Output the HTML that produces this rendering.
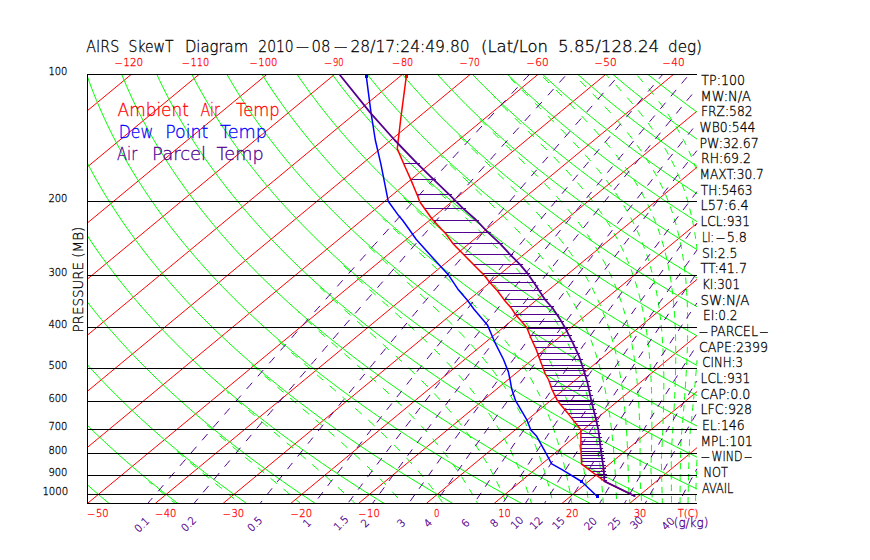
<!DOCTYPE html>
<html><head><meta charset="utf-8"><title>AIRS SkewT Diagram</title>
<style>
html,body{margin:0;padding:0;background:#fff;}
body{width:870px;height:560px;overflow:hidden;font-family:"Liberation Sans",sans-serif;}
svg{display:block;}
text{font-family:"DejaVu Sans","Liberation Sans",sans-serif;font-weight:200;stroke-width:0.3px;}
</style></head><body>
<svg width="870" height="560" viewBox="0 0 870 560" shape-rendering="crispEdges">
<rect width="870" height="560" fill="#fff"/>
<path d="M87.5 110.6 L131.3 74.4 M87.5 166.8 L199.1 74.4 M87.5 222.9 L266.8 74.4 M87.5 279.0 L334.6 74.4 M87.5 335.1 L402.4 74.4 M87.5 391.2 L470.2 74.4 M87.5 447.3 L538.0 74.4 M87.5 503.4 L605.7 74.4 M155.3 503.4 L673.5 74.4 M223.1 503.4 L697.0 111.1 M290.8 503.4 L697.0 167.2 M358.6 503.4 L697.0 223.3 M426.4 503.4 L697.0 279.4 M494.2 503.4 L697.0 335.5 M562.0 503.4 L697.0 391.6 M629.7 503.4 L697.0 447.7" stroke="#ff0000" fill="none" stroke-width="1" shape-rendering="auto"/>
<path d="M87.5 484.9 L93.7 490.4 L100.7 496.4 L107.8 502.4 L109.0 503.4 M87.5 425.4 L93.6 431.4 L99.9 437.4 L106.3 443.4 L112.9 449.4 L119.5 455.4 L126.3 461.4 L133.3 467.4 L140.3 473.4 L147.5 479.4 L154.9 485.4 L162.4 491.4 L170.0 497.4 L177.7 503.4 L177.7 503.4 M87.5 364.9 L92.5 370.4 L98.1 376.4 L103.8 382.4 L109.6 388.4 L115.6 394.4 L121.6 400.4 L127.8 406.4 L134.1 412.4 L140.6 418.4 L147.2 424.4 L153.9 430.4 L160.7 436.4 L167.7 442.4 L174.8 448.4 L182.1 454.4 L189.4 460.4 L197.0 466.4 L204.6 472.4 L212.4 478.4 L220.4 484.4 L228.5 490.4 L236.7 496.4 L245.1 502.4 L246.5 503.4 M87.5 302.3 L91.6 307.4 L96.4 313.4 L101.4 319.4 L106.4 325.4 L111.6 331.4 L117.0 337.4 L122.4 343.4 L127.9 349.4 L133.6 355.4 L139.4 361.4 L145.3 367.4 L151.4 373.4 L157.5 379.4 L163.8 385.4 L170.2 391.4 L176.8 397.4 L183.5 403.4 L190.3 409.4 L197.2 415.4 L204.3 421.4 L211.5 427.4 L218.9 433.4 L226.4 439.4 L234.0 445.4 L241.8 451.4 L249.7 457.4 L257.8 463.4 L266.0 469.4 L274.3 475.4 L282.8 481.4 L291.4 487.4 L300.2 493.4 L309.2 499.4 L315.2 503.4 M87.5 236.0 L91.1 241.4 L95.1 247.4 L99.3 253.4 L103.6 259.4 L108.1 265.4 L112.6 271.4 L117.2 277.4 L122.0 283.4 L126.8 289.4 L131.8 295.4 L136.9 301.4 L142.1 307.4 L147.4 313.4 L152.9 319.4 L158.4 325.4 L164.1 331.4 L169.9 337.4 L175.9 343.4 L181.9 349.4 L188.1 355.4 L194.4 361.4 L200.9 367.4 L207.4 373.4 L214.1 379.4 L221.0 385.4 L227.9 391.4 L235.0 397.4 L242.2 403.4 L249.6 409.4 L257.1 415.4 L264.8 421.4 L272.6 427.4 L280.5 433.4 L288.6 439.4 L296.8 445.4 L305.1 451.4 L313.7 457.4 L322.3 463.4 L331.1 469.4 L340.1 475.4 L349.2 481.4 L358.5 487.4 L367.9 493.4 L377.5 499.4 L384.0 503.4 M87.5 163.3 L90.2 168.4 L93.4 174.4 L96.7 180.4 L100.2 186.4 L103.7 192.4 L107.4 198.4 L111.2 204.4 L115.0 210.4 L119.0 216.4 L123.0 222.4 L127.2 228.4 L131.5 234.4 L135.9 240.4 L140.4 246.4 L145.0 252.4 L149.7 258.4 L154.6 264.4 L159.5 270.4 L164.6 276.4 L169.8 282.4 L175.1 288.4 L180.5 294.4 L186.0 300.4 L191.7 306.4 L197.5 312.4 L203.4 318.4 L209.4 324.4 L215.6 330.4 L221.9 336.4 L228.3 342.4 L234.8 348.4 L241.5 354.4 L248.3 360.4 L255.2 366.4 L262.3 372.4 L269.5 378.4 L276.9 384.4 L284.3 390.4 L291.9 396.4 L299.7 402.4 L307.6 408.4 L315.7 414.4 L323.8 420.4 L332.2 426.4 L340.7 432.4 L349.3 438.4 L358.1 444.4 L367.0 450.4 L376.1 456.4 L385.3 462.4 L394.7 468.4 L404.3 474.4 L414.0 480.4 L423.9 486.4 L433.9 492.4 L444.1 498.4 L452.7 503.4 M87.5 76.9 L89.5 82.4 L91.7 88.4 L94.1 94.4 L96.5 100.4 L99.1 106.4 L101.7 112.4 L104.4 118.4 L107.2 124.4 L110.1 130.4 L113.1 136.4 L116.2 142.4 L119.4 148.4 L122.7 154.4 L126.1 160.4 L129.6 166.4 L133.2 172.4 L136.9 178.4 L140.7 184.4 L144.6 190.4 L148.6 196.4 L152.8 202.4 L157.0 208.4 L161.3 214.4 L165.8 220.4 L170.3 226.4 L175.0 232.4 L179.8 238.4 L184.7 244.4 L189.7 250.4 L194.8 256.4 L200.1 262.4 L205.4 268.4 L210.9 274.4 L216.5 280.4 L222.2 286.4 L228.1 292.4 L234.0 298.4 L240.1 304.4 L246.3 310.4 L252.7 316.4 L259.2 322.4 L265.8 328.4 L272.5 334.4 L279.4 340.4 L286.4 346.4 L293.5 352.4 L300.8 358.4 L308.2 364.4 L315.7 370.4 L323.4 376.4 L331.3 382.4 L339.2 388.4 L347.3 394.4 L355.6 400.4 L364.0 406.4 L372.6 412.4 L381.3 418.4 L390.1 424.4 L399.1 430.4 L408.3 436.4 L417.6 442.4 L427.1 448.4 L436.7 454.4 L446.5 460.4 L456.4 466.4 L466.6 472.4 L476.8 478.4 L487.3 484.4 L497.9 490.4 L508.7 496.4 L519.6 502.4 L521.5 503.4 M121.7 74.4 L124.2 80.4 L126.7 86.4 L129.4 92.4 L132.1 98.4 L135.0 104.4 L137.9 110.4 L141.0 116.4 L144.1 122.4 L147.3 128.4 L150.7 134.4 L154.1 140.4 L157.6 146.4 L161.3 152.4 L165.0 158.4 L168.8 164.4 L172.8 170.4 L176.8 176.4 L181.0 182.4 L185.3 188.4 L189.6 194.4 L194.1 200.4 L198.7 206.4 L203.4 212.4 L208.3 218.4 L213.2 224.4 L218.2 230.4 L223.4 236.4 L228.7 242.4 L234.1 248.4 L239.6 254.4 L245.3 260.4 L251.0 266.4 L256.9 272.4 L262.9 278.4 L269.1 284.4 L275.3 290.4 L281.7 296.4 L288.2 302.4 L294.9 308.4 L301.7 314.4 L308.6 320.4 L315.6 326.4 L322.8 332.4 L330.1 338.4 L337.6 344.4 L345.2 350.4 L352.9 356.4 L360.8 362.4 L368.8 368.4 L377.0 374.4 L385.3 380.4 L393.8 386.4 L402.4 392.4 L411.1 398.4 L420.0 404.4 L429.1 410.4 L438.3 416.4 L447.7 422.4 L457.2 428.4 L466.9 434.4 L476.8 440.4 L486.8 446.4 L496.9 452.4 L507.3 458.4 L517.8 464.4 L528.4 470.4 L539.3 476.4 L550.3 482.4 L561.5 488.4 L572.8 494.4 L584.4 500.4 L590.2 503.4 M156.8 74.4 L159.6 80.4 L162.5 86.4 L165.5 92.4 L168.6 98.4 L171.8 104.4 L175.0 110.4 L178.4 116.4 L181.9 122.4 L185.5 128.4 L189.2 134.4 L193.0 140.4 L196.9 146.4 L200.9 152.4 L205.0 158.4 L209.2 164.4 L213.6 170.4 L218.0 176.4 L222.6 182.4 L227.2 188.4 L232.0 194.4 L236.9 200.4 L241.9 206.4 L247.0 212.4 L252.2 218.4 L257.6 224.4 L263.0 230.4 L268.6 236.4 L274.4 242.4 L280.2 248.4 L286.1 254.4 L292.2 260.4 L298.4 266.4 L304.8 272.4 L311.2 278.4 L317.8 284.4 L324.6 290.4 L331.4 296.4 L338.4 302.4 L345.5 308.4 L352.8 314.4 L360.2 320.4 L367.7 326.4 L375.4 332.4 L383.2 338.4 L391.2 344.4 L399.3 350.4 L407.5 356.4 L415.9 362.4 L424.5 368.4 L433.2 374.4 L442.0 380.4 L451.0 386.4 L460.1 392.4 L469.4 398.4 L478.9 404.4 L488.5 410.4 L498.3 416.4 L508.2 422.4 L518.3 428.4 L528.6 434.4 L539.0 440.4 L549.6 446.4 L560.4 452.4 L571.3 458.4 L582.4 464.4 L593.7 470.4 L605.2 476.4 L616.8 482.4 L628.6 488.4 L640.6 494.4 L652.8 500.4 L658.9 503.4 M191.9 74.4 L195.0 80.4 L198.2 86.4 L201.6 92.4 L205.0 98.4 L208.5 104.4 L212.2 110.4 L215.9 116.4 L219.7 122.4 L223.7 128.4 L227.8 134.4 L231.9 140.4 L236.2 146.4 L240.6 152.4 L245.0 158.4 L249.6 164.4 L254.4 170.4 L259.2 176.4 L264.1 182.4 L269.2 188.4 L274.3 194.4 L279.6 200.4 L285.0 206.4 L290.6 212.4 L296.2 218.4 L302.0 224.4 L307.9 230.4 L313.9 236.4 L320.0 242.4 L326.3 248.4 L332.7 254.4 L339.2 260.4 L345.8 266.4 L352.6 272.4 L359.5 278.4 L366.6 284.4 L373.8 290.4 L381.1 296.4 L388.6 302.4 L396.2 308.4 L403.9 314.4 L411.8 320.4 L419.8 326.4 L428.0 332.4 L436.3 338.4 L444.7 344.4 L453.4 350.4 L462.1 356.4 L471.0 362.4 L480.1 368.4 L489.3 374.4 L498.7 380.4 L508.2 386.4 L517.9 392.4 L527.8 398.4 L537.8 404.4 L547.9 410.4 L558.3 416.4 L568.8 422.4 L579.5 428.4 L590.3 434.4 L601.3 440.4 L612.5 446.4 L623.9 452.4 L635.4 458.4 L647.1 464.4 L659.0 470.4 L671.1 476.4 L683.3 482.4 L695.8 488.4 L697.0 489.0 M226.9 74.4 L230.4 80.4 L234.0 86.4 L237.6 92.4 L241.4 98.4 L245.3 104.4 L249.3 110.4 L253.4 116.4 L257.6 122.4 L261.9 128.4 L266.3 134.4 L270.8 140.4 L275.5 146.4 L280.2 152.4 L285.1 158.4 L290.0 164.4 L295.1 170.4 L300.3 176.4 L305.7 182.4 L311.1 188.4 L316.7 194.4 L322.4 200.4 L328.2 206.4 L334.1 212.4 L340.2 218.4 L346.3 224.4 L352.7 230.4 L359.1 236.4 L365.7 242.4 L372.4 248.4 L379.2 254.4 L386.2 260.4 L393.2 266.4 L400.5 272.4 L407.9 278.4 L415.4 284.4 L423.0 290.4 L430.8 296.4 L438.7 302.4 L446.8 308.4 L455.0 314.4 L463.4 320.4 L471.9 326.4 L480.5 332.4 L489.4 338.4 L498.3 344.4 L507.4 350.4 L516.7 356.4 L526.1 362.4 L535.7 368.4 L545.5 374.4 L555.4 380.4 L565.4 386.4 L575.7 392.4 L586.1 398.4 L596.6 404.4 L607.4 410.4 L618.3 416.4 L629.3 422.4 L640.6 428.4 L652.0 434.4 L663.6 440.4 L675.4 446.4 L687.3 452.4 L697.0 457.2 M262.0 74.4 L265.8 80.4 L269.7 86.4 L273.7 92.4 L277.9 98.4 L282.1 104.4 L286.4 110.4 L290.8 116.4 L295.4 122.4 L300.1 128.4 L304.8 134.4 L309.7 140.4 L314.7 146.4 L319.9 152.4 L325.1 158.4 L330.4 164.4 L335.9 170.4 L341.5 176.4 L347.2 182.4 L353.1 188.4 L359.0 194.4 L365.1 200.4 L371.3 206.4 L377.7 212.4 L384.1 218.4 L390.7 224.4 L397.5 230.4 L404.3 236.4 L411.3 242.4 L418.4 248.4 L425.7 254.4 L433.1 260.4 L440.7 266.4 L448.3 272.4 L456.2 278.4 L464.1 284.4 L472.2 290.4 L480.5 296.4 L488.9 302.4 L497.4 308.4 L506.1 314.4 L515.0 320.4 L524.0 326.4 L533.1 332.4 L542.4 338.4 L551.9 344.4 L561.5 350.4 L571.3 356.4 L581.2 362.4 L591.4 368.4 L601.6 374.4 L612.1 380.4 L622.7 386.4 L633.4 392.4 L644.4 398.4 L655.5 404.4 L666.8 410.4 L678.2 416.4 L689.9 422.4 L697.0 426.0 M297.1 74.4 L301.2 80.4 L305.5 86.4 L309.8 92.4 L314.3 98.4 L318.8 104.4 L323.5 110.4 L328.3 116.4 L333.2 122.4 L338.2 128.4 L343.4 134.4 L348.6 140.4 L354.0 146.4 L359.5 152.4 L365.1 158.4 L370.8 164.4 L376.7 170.4 L382.7 176.4 L388.8 182.4 L395.0 188.4 L401.4 194.4 L407.9 200.4 L414.5 206.4 L421.2 212.4 L428.1 218.4 L435.1 224.4 L442.3 230.4 L449.6 236.4 L457.0 242.4 L464.5 248.4 L472.2 254.4 L480.1 260.4 L488.1 266.4 L496.2 272.4 L504.5 278.4 L512.9 284.4 L521.5 290.4 L530.2 296.4 L539.0 302.4 L548.1 308.4 L557.2 314.4 L566.6 320.4 L576.1 326.4 L585.7 332.4 L595.5 338.4 L605.5 344.4 L615.6 350.4 L625.9 356.4 L636.4 362.4 L647.0 368.4 L657.8 374.4 L668.7 380.4 L679.9 386.4 L691.2 392.4 L697.0 395.5 M332.2 74.4 L336.7 80.4 L341.2 86.4 L345.9 92.4 L350.7 98.4 L355.6 104.4 L360.6 110.4 L365.8 116.4 L371.1 122.4 L376.4 128.4 L381.9 134.4 L387.5 140.4 L393.3 146.4 L399.1 152.4 L405.1 158.4 L411.2 164.4 L417.5 170.4 L423.8 176.4 L430.3 182.4 L437.0 188.4 L443.7 194.4 L450.6 200.4 L457.6 206.4 L464.8 212.4 L472.1 218.4 L479.5 224.4 L487.1 230.4 L494.8 236.4 L502.6 242.4 L510.6 248.4 L518.8 254.4 L527.0 260.4 L535.5 266.4 L544.0 272.4 L552.8 278.4 L561.7 284.4 L570.7 290.4 L579.9 296.4 L589.2 302.4 L598.7 308.4 L608.4 314.4 L618.2 320.4 L628.1 326.4 L638.3 332.4 L648.6 338.4 L659.0 344.4 L669.7 350.4 L680.5 356.4 L691.5 362.4 L697.0 365.4 M367.3 74.4 L372.1 80.4 L377.0 86.4 L382.0 92.4 L387.1 98.4 L392.4 104.4 L397.8 110.4 L403.3 116.4 L408.9 122.4 L414.6 128.4 L420.5 134.4 L426.5 140.4 L432.6 146.4 L438.8 152.4 L445.2 158.4 L451.6 164.4 L458.3 170.4 L465.0 176.4 L471.9 182.4 L478.9 188.4 L486.1 194.4 L493.4 200.4 L500.8 206.4 L508.3 212.4 L516.0 218.4 L523.9 224.4 L531.9 230.4 L540.0 236.4 L548.3 242.4 L556.7 248.4 L565.3 254.4 L574.0 260.4 L582.9 266.4 L591.9 272.4 L601.1 278.4 L610.4 284.4 L619.9 290.4 L629.6 296.4 L639.4 302.4 L649.3 308.4 L659.5 314.4 L669.8 320.4 L680.2 326.4 L690.9 332.4 L697.0 335.8 M402.4 74.4 L407.5 80.4 L412.7 86.4 L418.1 92.4 L423.6 98.4 L429.2 104.4 L434.9 110.4 L440.7 116.4 L446.7 122.4 L452.8 128.4 L459.0 134.4 L465.4 140.4 L471.8 146.4 L478.4 152.4 L485.2 158.4 L492.0 164.4 L499.0 170.4 L506.2 176.4 L513.5 182.4 L520.9 188.4 L528.4 194.4 L536.1 200.4 L543.9 206.4 L551.9 212.4 L560.0 218.4 L568.3 224.4 L576.7 230.4 L585.2 236.4 L593.9 242.4 L602.8 248.4 L611.8 254.4 L621.0 260.4 L630.3 266.4 L639.8 272.4 L649.4 278.4 L659.2 284.4 L669.1 290.4 L679.2 296.4 L689.5 302.4 L697.0 306.7 M437.4 74.4 L442.9 80.4 L448.5 86.4 L454.2 92.4 L460.0 98.4 L465.9 104.4 L472.0 110.4 L478.2 116.4 L484.5 122.4 L491.0 128.4 L497.6 134.4 L504.3 140.4 L511.1 146.4 L518.1 152.4 L525.2 158.4 L532.4 164.4 L539.8 170.4 L547.4 176.4 L555.0 182.4 L562.8 188.4 L570.8 194.4 L578.8 200.4 L587.1 206.4 L595.5 212.4 L604.0 218.4 L612.7 224.4 L621.5 230.4 L630.5 236.4 L639.6 242.4 L648.9 248.4 L658.3 254.4 L667.9 260.4 L677.7 266.4 L687.6 272.4 L697.0 278.0 L697.0 278.0 M472.5 74.4 L478.3 80.4 L484.2 86.4 L490.3 92.4 L496.4 98.4 L502.7 104.4 L509.1 110.4 L515.7 116.4 L522.4 122.4 L529.2 128.4 L536.1 134.4 L543.2 140.4 L550.4 146.4 L557.7 152.4 L565.2 158.4 L572.8 164.4 L580.6 170.4 L588.5 176.4 L596.6 182.4 L604.8 188.4 L613.1 194.4 L621.6 200.4 L630.2 206.4 L639.0 212.4 L648.0 218.4 L657.1 224.4 L666.3 230.4 L675.7 236.4 L685.3 242.4 L695.0 248.4 L697.0 249.6 M507.6 74.4 L513.7 80.4 L520.0 86.4 L526.4 92.4 L532.9 98.4 L539.5 104.4 L546.3 110.4 L553.2 116.4 L560.2 122.4 L567.3 128.4 L574.6 134.4 L582.1 140.4 L589.7 146.4 L597.4 152.4 L605.2 158.4 L613.2 164.4 L621.4 170.4 L629.7 176.4 L638.1 182.4 L646.7 188.4 L655.5 194.4 L664.3 200.4 L673.4 206.4 L682.6 212.4 L691.9 218.4 L697.0 221.6 M542.7 74.4 L549.1 80.4 L555.7 86.4 L562.4 92.4 L569.3 98.4 L576.3 104.4 L583.4 110.4 L590.6 116.4 L598.0 122.4 L605.5 128.4 L613.2 134.4 L621.0 140.4 L628.9 146.4 L637.0 152.4 L645.3 158.4 L653.7 164.4 L662.2 170.4 L670.9 176.4 L679.7 182.4 L688.7 188.4 L697.0 193.9 L697.0 193.9 M577.8 74.4 L584.6 80.4 L591.5 86.4 L598.5 92.4 L605.7 98.4 L613.0 104.4 L620.5 110.4 L628.1 116.4 L635.8 122.4 L643.7 128.4 L651.7 134.4 L659.9 140.4 L668.2 146.4 L676.7 152.4 L685.3 158.4 L694.1 164.4 L697.0 166.4 M612.9 74.4 L620.0 80.4 L627.2 86.4 L634.6 92.4 L642.1 98.4 L649.8 104.4 L657.6 110.4 L665.6 116.4 L673.7 122.4 L681.9 128.4 L690.3 134.4 L697.0 139.1 M647.9 74.4 L655.4 80.4 L663.0 86.4 L670.7 92.4 L678.6 98.4 L686.6 104.4 L694.7 110.4 L697.0 112.1" stroke="#00ff00" fill="none" stroke-width="1" shape-rendering="auto"/>
<path d="M148.7 481.5 L150.5 483.0 L152.3 484.5 M158.8 490.0 L162.0 492.6 L165.0 495.1 M171.5 500.5 L173.3 502.0 L175.0 503.3 M177.1 451.5 L180.3 454.1 L183.4 456.8 M189.9 462.3 L193.0 465.0 L196.2 467.6 M202.6 473.0 L205.9 475.6 L208.9 478.1 M215.4 483.5 L218.6 486.1 L221.7 488.6 M228.2 494.0 L231.3 496.5 L234.3 499.0 M206.9 424.8 L210.2 427.6 L213.3 430.3 M219.7 435.8 L222.8 438.5 L226.0 441.1 M232.5 446.6 L235.7 449.3 L238.7 451.8 M245.3 457.3 L248.5 460.0 L251.5 462.5 M258.0 467.8 L261.2 470.5 L264.2 473.0 M270.6 478.3 L273.8 481.0 L277.0 483.6 M283.4 489.0 L286.6 491.6 L289.7 494.3 M296.2 499.8 L298.3 501.6 L300.3 503.3 M226.7 391.5 L227.8 392.5 L229.0 393.5 M235.6 399.3 L238.9 402.1 L241.9 404.8 M248.3 410.3 L251.4 413.0 L254.6 415.6 M261.2 421.3 L264.4 424.0 L267.5 426.6 M273.8 432.0 L277.0 434.6 L280.2 437.3 M286.7 442.8 L289.9 445.5 L293.0 448.1 M299.5 453.6 L302.7 456.3 L305.8 459.0 M312.2 464.5 L315.5 467.3 L318.5 470.0 M325.0 475.6 L328.2 478.5 L331.3 481.3 M337.9 487.3 L341.0 490.1 L344.0 493.0 M350.8 499.3 L352.8 501.3 L354.9 503.3 M251.7 364.5 L254.8 367.3 L257.8 370.0 M264.4 375.8 L267.7 378.6 L270.7 381.3 M277.3 387.0 L280.3 389.6 L283.4 392.3 M290.0 398.0 L293.1 400.6 L296.3 403.3 M302.7 408.8 L306.0 411.6 L309.1 414.3 M315.5 419.8 L318.8 422.6 L321.9 425.3 M328.3 430.8 L331.5 433.6 L334.6 436.3 M341.2 442.1 L344.3 445.0 L347.4 447.8 M354.0 453.8 L357.3 456.8 L360.3 459.6 M367.0 466.0 L370.1 469.0 L373.1 472.0 M379.9 478.7 L383.0 481.9 L386.0 485.1 M392.1 491.6 L395.0 494.8 L397.9 498.0 M278.4 340.8 L281.5 343.7 L284.7 346.5 M291.2 352.3 L294.4 355.1 L297.5 357.8 M304.1 363.6 L307.4 366.5 L310.4 369.1 M317.0 374.8 L320.0 377.5 L323.1 380.1 M329.6 385.8 L332.9 388.6 L336.0 391.3 M342.5 397.0 L345.7 399.8 L348.7 402.5 M355.3 408.3 L358.6 411.3 L361.7 414.1 M368.3 420.1 L371.5 423.1 L374.6 425.9 M381.1 432.1 L384.2 435.1 L387.3 438.1 M394.1 444.9 L397.3 448.1 L400.2 451.1 M406.5 457.9 L409.4 461.1 L412.1 464.1 M417.9 470.7 L420.7 473.9 L423.2 476.9 M428.3 483.3 L430.8 486.5 L433.3 489.7 M438.0 496.1 L440.3 499.3 L442.4 502.3 M298.2 312.5 L298.7 313.0 L299.1 313.4 M305.7 319.4 L308.8 322.2 L312.0 325.0 M318.6 331.0 L321.8 333.8 L324.8 336.5 M331.4 342.3 L334.6 345.1 L337.6 347.8 M344.3 353.6 L347.5 356.5 L350.5 359.1 M357.1 365.0 L360.3 367.8 L363.3 370.5 M369.9 376.4 L373.1 379.2 L376.2 382.0 M382.8 388.0 L386.0 391.0 L389.0 393.8 M395.7 400.2 L398.9 403.2 L401.9 406.2 M408.6 412.8 L411.7 416.0 L414.8 419.2 M421.0 425.7 L424.0 428.9 L426.9 432.1 M432.7 438.7 L435.4 441.9 L437.9 444.9 M443.1 451.3 L445.6 454.5 L448.1 457.7 M452.7 464.0 L455.1 467.2 L457.3 470.4 M461.5 476.6 L463.6 479.9 L465.5 482.9 M469.3 489.1 L471.3 492.3 L473.0 495.3 M476.3 501.3 L477.0 502.4 L477.4 503.3 M319.9 287.5 L322.4 289.8 L324.7 291.9 M331.4 298.1 L334.5 300.9 L337.7 303.7 M344.3 309.7 L347.5 312.5 L350.6 315.4 M357.1 321.1 L360.3 324.0 L363.4 326.8 M370.0 332.6 L373.2 335.5 L376.3 338.3 M382.8 344.1 L385.9 347.0 L389.0 349.8 M395.8 356.0 L398.8 358.8 L401.9 361.6 M408.6 368.0 L411.8 371.0 L414.9 374.0 M421.5 380.5 L424.7 383.7 L427.8 386.9 M434.1 393.4 L437.1 396.6 L440.0 399.8 M445.8 406.3 L448.6 409.5 L451.3 412.7 M456.6 419.1 L459.1 422.3 L461.6 425.5 M466.3 431.7 L468.7 434.9 L470.9 438.1 M475.2 444.4 L477.3 447.6 L479.3 450.6 M483.1 456.8 L485.0 459.9 L486.9 463.1 M490.3 469.1 L492.0 472.4 L493.7 475.6 M496.6 481.4 L498.2 484.6 L499.8 487.8 M502.4 493.6 L503.8 496.8 L505.2 500.1 M343.7 265.8 L346.9 268.8 L350.0 271.6 M356.7 277.8 L359.7 280.6 L362.8 283.4 M369.4 289.4 L372.6 292.3 L375.7 295.1 M382.3 301.1 L385.4 303.9 L388.6 306.7 M395.2 312.7 L398.3 315.5 L401.4 318.4 M408.1 324.5 L411.4 327.5 L414.4 330.4 M421.0 336.5 L424.2 339.5 L427.3 342.5 M434.0 349.1 L437.1 352.2 L440.1 355.2 M446.6 361.9 L449.7 365.1 L452.6 368.3 M458.6 374.9 L461.3 377.9 L464.0 381.1 M469.6 387.7 L472.2 390.9 L474.6 393.9 M479.5 400.3 L481.8 403.4 L484.1 406.6 M488.5 412.9 L490.7 416.1 L492.8 419.3 M496.7 425.5 L498.5 428.5 L500.4 431.7 M503.8 437.7 L505.6 441.0 L507.3 444.2 M510.3 450.0 L511.9 453.2 L513.4 456.4 M516.1 462.2 L517.5 465.4 L518.9 468.7 M521.3 474.5 L522.6 477.8 L523.7 480.8 M525.9 486.5 L527.0 489.8 L528.2 493.0 M530.0 498.5 L530.8 501.0 L531.5 503.3 M368.6 246.5 L371.8 249.5 L374.8 252.3 M381.5 258.5 L384.7 261.5 L387.8 264.3 M394.3 270.3 L397.6 273.3 L400.7 276.1 M407.2 282.1 L410.3 285.0 L413.4 287.8 M420.1 294.0 L423.4 297.0 L426.4 299.8 M433.0 306.0 L436.1 309.0 L439.3 312.0 M446.0 318.5 L449.2 321.7 L452.3 324.7 M458.9 331.4 L462.0 334.6 L464.8 337.6 M470.9 344.2 L473.7 347.4 L476.5 350.5 M482.2 357.1 L484.8 360.3 L487.3 363.3 M492.3 369.7 L494.7 372.9 L497.1 376.1 M501.5 382.4 L503.8 385.6 L505.9 388.8 M509.8 394.8 L511.8 398.0 L513.6 401.1 M517.2 407.4 L519.0 410.6 L520.7 413.6 M523.8 419.6 L525.4 422.8 L526.9 426.1 M529.6 431.8 L531.0 435.1 L532.4 438.3 M534.8 444.0 L536.1 447.3 L537.2 450.3 M539.4 456.0 L540.5 459.3 L541.6 462.5 M543.4 468.0 L544.5 471.3 L545.5 474.5 M547.1 480.0 L548.0 483.3 L548.9 486.5 M550.3 491.8 L551.1 495.0 L551.9 498.3 M382.9 218.5 L384.7 220.3 L386.4 221.8 M393.1 228.2 L396.3 231.2 L399.5 234.2 M406.1 240.4 L409.3 243.4 L412.4 246.2 M419.0 252.4 L422.1 255.2 L425.1 258.0 M431.8 264.2 L435.0 267.2 L438.0 270.0 M444.8 276.4 L448.0 279.4 L450.9 282.2 M457.7 288.7 L460.8 291.7 L463.8 294.7 M470.6 301.6 L473.7 304.7 L476.6 307.7 M483.0 314.5 L485.9 317.7 L488.6 320.7 M494.3 327.3 L497.1 330.5 L499.5 333.5 M504.8 340.1 L507.3 343.3 L509.6 346.3 M514.2 352.6 L516.5 355.9 L518.7 359.1 M522.7 365.1 L524.7 368.3 L526.7 371.5 M530.2 377.5 L532.1 380.7 L533.8 384.0 M537.0 390.0 L538.6 393.2 L540.1 396.2 M542.9 402.2 L544.3 405.4 L545.7 408.4 M548.1 414.3 L549.4 417.5 L550.6 420.8 M552.7 426.3 L553.8 429.5 L554.9 432.8 M556.7 438.3 L557.7 441.5 L558.7 444.8 M560.3 450.3 L561.2 453.5 L562.1 456.8 M563.5 462.3 L564.3 465.5 L565.1 468.8 M566.3 474.0 L567.0 477.3 L567.7 480.5 M568.7 485.8 L569.4 489.0 L570.0 492.3 M570.9 497.5 L571.4 500.5 L571.9 503.3 M403.6 197.7 L406.7 200.7 L409.8 203.7 M416.5 210.1 L419.6 213.1 L422.6 215.9 M429.4 222.3 L432.6 225.3 L435.6 228.1 M442.2 234.3 L445.4 237.3 L448.4 240.1 M455.1 246.4 L458.3 249.4 L461.5 252.4 M468.1 258.8 L471.2 261.8 L474.2 264.8 M481.0 271.5 L484.2 274.7 L487.3 277.9 M493.6 284.4 L496.5 287.6 L499.5 290.8 M505.3 297.3 L508.1 300.5 L510.8 303.7 M516.1 310.1 L518.7 313.3 L521.2 316.5 M525.9 322.7 L528.2 325.9 L530.5 329.1 M534.7 335.4 L536.8 338.6 L538.9 341.8 M542.6 347.9 L544.5 351.1 L546.2 354.1 M549.4 360.1 L551.1 363.4 L552.7 366.6 M555.5 372.4 L557.0 375.6 L558.4 378.8 M560.9 384.5 L562.2 387.8 L563.5 391.0 M565.5 396.5 L566.7 399.8 L567.8 403.0 M569.6 408.5 L570.7 411.8 L571.6 415.0 M573.2 420.5 L574.1 423.8 L575.0 427.0 M576.4 432.5 L577.2 435.8 L578.0 439.0 M579.1 444.3 L579.8 447.5 L580.5 450.8 M581.5 456.0 L582.1 459.3 L582.7 462.5 M583.7 468.0 L584.2 471.3 L584.7 474.3 M585.5 479.5 L585.9 482.8 L586.4 486.0 M587.1 491.3 L587.5 494.5 L587.9 497.8 M588.5 503.0 L588.5 503.3 L588.5 503.3 M426.6 180.4 L429.7 183.4 L432.8 186.4 M439.6 193.0 L442.8 196.0 L445.8 198.8 M452.5 205.1 L455.6 208.1 L458.8 211.1 M465.5 217.5 L468.7 220.5 L471.6 223.3 M478.4 229.8 L481.5 232.8 L484.6 235.8 M491.4 242.5 L494.5 245.6 L497.5 248.6 M504.0 255.4 L507.1 258.6 L510.1 261.7 M516.1 268.3 L518.8 271.3 L521.6 274.5 M527.2 281.1 L529.8 284.3 L532.4 287.5 M537.4 293.9 L539.7 297.0 L542.1 300.2 M546.4 306.4 L548.6 309.6 L550.6 312.6 M554.5 318.9 L556.5 322.1 L558.3 325.3 M561.7 331.3 L563.4 334.5 L565.1 337.7 M568.0 343.5 L569.5 346.7 L571.0 350.0 M573.5 355.7 L574.8 358.8 L576.1 362.0 M578.3 367.8 L579.5 371.0 L580.6 374.3 M582.5 379.8 L583.5 383.0 L584.5 386.3 M586.1 391.8 L587.0 395.0 L587.9 398.3 M589.3 403.8 L590.1 407.0 L590.8 410.0 M592.0 415.5 L592.7 418.8 L593.3 422.0 M594.3 427.3 L594.9 430.5 L595.5 433.8 M596.3 439.0 L596.8 442.3 L597.3 445.5 M598.1 450.8 L598.5 454.0 L598.9 457.3 M599.6 462.5 L600.0 465.8 L600.3 469.0 M600.8 474.0 L601.2 477.5 L601.5 480.8 M601.9 485.8 L602.2 489.0 L602.5 492.3 M602.9 497.5 L603.1 500.5 L603.3 503.3 M440.7 155.5 L442.0 156.7 L443.0 157.8 M449.7 164.3 L452.8 167.3 L455.9 170.3 M462.7 176.8 L465.8 179.8 L468.9 182.8 M475.6 189.2 L478.7 192.2 L481.8 195.2 M488.6 201.7 L491.7 204.7 L494.8 207.7 M501.5 214.3 L504.5 217.3 L507.6 220.4 M514.5 227.3 L517.5 230.5 L520.4 233.5 M526.5 240.1 L529.4 243.2 L532.3 246.4 M538.0 252.9 L540.7 256.1 L543.3 259.3 M548.5 265.7 L550.9 268.9 L553.4 272.1 M557.9 278.3 L560.1 281.5 L562.3 284.7 M566.4 290.9 L568.4 294.1 L570.2 297.2 M573.7 303.2 L575.5 306.4 L577.2 309.7 M580.2 315.4 L581.8 318.7 L583.3 321.9 M585.9 327.7 L587.3 330.9 L588.6 334.0 M590.9 339.8 L592.1 343.0 L593.2 346.3 M595.1 351.8 L596.2 355.0 L597.2 358.3 M598.8 363.8 L599.7 367.0 L600.6 370.3 M602.0 375.8 L602.8 379.0 L603.6 382.3 M604.7 387.5 L605.4 390.8 L606.0 394.0 M607.0 399.3 L607.6 402.5 L608.2 405.8 M609.0 411.0 L609.5 414.3 L610.0 417.5 M610.7 422.8 L611.1 426.0 L611.5 429.3 M612.1 434.5 L612.4 437.8 L612.8 441.0 M613.3 446.3 L613.6 449.5 L613.8 452.8 M614.2 457.8 L614.5 461.0 L614.7 464.3 M615.0 469.3 L615.2 472.8 L615.4 476.0 M615.7 481.0 L615.8 484.3 L616.0 487.5 M616.2 492.5 L616.3 495.8 L616.6 499.0 M458.8 135.5 L462.0 138.7 L465.0 141.7 M471.7 148.2 L474.9 151.4 L478.0 154.4 M484.8 160.9 L487.9 163.9 L491.0 166.9 M497.7 173.4 L500.8 176.4 L503.9 179.4 M510.6 186.0 L513.8 189.1 L516.8 192.1 M523.5 198.9 L526.6 202.1 L529.6 205.1 M536.0 211.8 L539.0 215.0 L541.9 218.2 M547.8 224.7 L550.6 227.9 L553.1 230.9 M558.6 237.5 L561.2 240.7 L563.6 243.7 M568.4 250.2 L570.8 253.4 L572.9 256.4 M577.3 262.8 L579.4 266.0 L581.3 269.0 M585.0 275.1 L586.9 278.4 L588.7 281.6 M591.8 287.4 L593.5 290.6 L595.0 293.8 M597.8 299.6 L599.2 302.8 L600.6 306.1 M602.9 311.8 L604.2 315.0 L605.4 318.3 M607.4 323.8 L608.5 327.0 L609.5 330.3 M611.2 335.8 L612.1 339.0 L613.0 342.3 M614.5 347.8 L615.3 351.0 L616.0 354.3 M617.2 359.5 L617.9 362.8 L618.5 366.0 M619.6 371.5 L620.1 374.8 L620.7 378.0 M621.5 383.3 L622.0 386.5 L622.5 389.8 M623.1 394.8 L623.5 398.0 L623.9 401.3 M624.5 406.5 L624.8 409.8 L625.1 413.0 M625.6 418.3 L625.8 421.5 L626.1 424.8 M626.5 429.8 L626.7 433.0 L626.9 436.3 M627.1 441.3 L627.3 444.8 L627.5 448.0 M627.7 453.0 L627.8 456.3 L627.9 459.5 M628.0 464.5 L628.1 467.8 L628.2 471.0 M628.3 476.0 L628.4 479.3 L628.4 482.5 M628.5 487.5 L628.8 490.8 L629.1 494.0 M629.6 499.3 L629.7 501.3 L629.9 503.3 M479.7 119.2 L483.0 122.5 L486.0 125.5 M492.8 132.3 L495.9 135.3 L498.9 138.3 M505.8 145.0 L508.8 148.0 L511.9 151.0 M518.6 157.5 L521.8 160.7 L524.9 163.7 M531.6 170.4 L534.8 173.6 L537.8 176.6 M544.3 183.4 L547.4 186.6 L550.2 189.6 M556.4 196.3 L559.3 199.5 L562.0 202.5 M567.7 209.1 L570.4 212.3 L573.0 215.5 M578.0 221.9 L580.5 225.1 L582.8 228.2 M587.3 234.4 L589.5 237.7 L591.6 240.9 M595.5 246.9 L597.4 250.1 L599.3 253.3 M602.7 259.3 L604.5 262.5 L606.1 265.7 M609.0 271.5 L610.5 274.7 L612.0 278.0 M614.5 283.8 L615.8 287.0 L617.1 290.3 M619.1 295.8 L620.3 299.0 L621.4 302.3 M623.1 307.8 L624.1 311.0 L625.1 314.3 M626.6 319.8 L627.4 323.0 L628.2 326.3 M629.4 331.5 L630.1 334.8 L630.8 338.0 M631.8 343.5 L632.4 346.8 L633.0 350.0 M633.8 355.3 L634.3 358.5 L634.8 361.8 M635.4 366.8 L635.9 370.3 L636.2 373.5 M636.8 378.5 L637.1 381.8 L637.4 385.0 M637.8 390.3 L638.1 393.5 L638.3 396.8 M638.6 401.8 L638.8 405.0 L639.0 408.3 M639.2 413.3 L639.4 416.8 L639.5 420.0 M639.7 425.0 L639.8 428.3 L639.8 431.5 M639.9 436.5 L640.0 439.8 L640.0 443.0 M640.1 448.0 L640.1 451.3 L640.1 454.5 M640.1 459.5 L640.1 462.8 L640.1 466.0 M640.0 471.0 L640.0 474.3 L640.0 477.5 M640.3 482.5 L640.5 485.8 L640.7 489.0 M641.0 494.0 L641.3 497.5 L641.5 500.8 M494.1 97.5 L494.7 98.1 L495.1 98.4 M501.8 105.2 L504.9 108.4 L508.0 111.4 M514.8 118.1 L518.0 121.3 L521.0 124.3 M527.8 131.0 L530.9 134.0 L533.9 137.0 M540.7 143.8 L543.9 147.0 L546.9 150.0 M553.5 156.7 L556.6 159.9 L559.6 163.1 M565.8 169.7 L568.7 172.9 L571.6 176.1 M577.3 182.5 L580.1 185.7 L582.8 188.9 M588.0 195.3 L590.6 198.5 L593.0 201.7 M597.8 208.1 L600.1 211.3 L602.2 214.3 M606.3 220.5 L608.4 223.7 L610.4 226.9 M613.9 233.0 L615.7 236.2 L617.4 239.2 M620.5 245.2 L622.1 248.4 L623.6 251.7 M626.2 257.4 L627.5 260.5 L628.9 263.8 M631.1 269.5 L632.3 272.8 L633.4 276.0 M635.2 281.5 L636.3 284.8 L637.2 288.0 M638.8 293.5 L639.6 296.8 L640.4 300.0 M641.7 305.3 L642.4 308.5 L643.1 311.8 M644.2 317.3 L644.8 320.5 L645.3 323.8 M646.2 329.0 L646.7 332.3 L647.1 335.5 M647.8 340.5 L648.2 344.0 L648.6 347.3 M649.1 352.3 L649.4 355.5 L649.7 358.8 M650.1 364.0 L650.3 367.3 L650.6 370.5 M650.9 375.5 L651.0 378.8 L651.2 382.0 M651.4 387.0 L651.5 390.3 L651.6 393.5 M651.7 398.5 L651.8 402.0 L651.8 405.3 M651.9 410.3 L651.9 413.5 L651.9 416.8 M651.9 421.8 L651.9 425.0 L651.9 428.3 M651.8 433.3 L651.8 436.5 L651.7 439.8 M651.6 444.8 L651.5 448.0 L651.4 451.3 M651.3 456.3 L651.2 459.5 L651.1 462.8 M651.0 467.8 L651.0 471.0 L651.2 474.3 M651.4 479.3 L651.5 482.5 L651.7 485.8 M651.9 491.0 L652.0 494.3 L652.1 497.5 M652.4 502.5 L652.4 503.0 L652.4 503.3 M510.5 78.5 L512.8 80.9 L515.2 83.4 M521.9 90.1 L525.1 93.3 L528.1 96.3 M534.8 103.0 L538.0 106.2 L541.0 109.2 M547.8 116.0 L551.0 119.2 L554.0 122.2 M560.7 128.9 L563.8 132.1 L566.9 135.3 M573.2 141.9 L576.2 145.1 L579.1 148.2 M585.1 154.8 L588.0 158.0 L590.7 161.1 M596.3 167.7 L599.0 170.9 L601.4 173.9 M606.4 180.3 L608.8 183.5 L611.2 186.7 M615.6 192.9 L617.8 196.2 L619.9 199.4 M623.7 205.4 L625.5 208.4 L627.4 211.7 M630.7 217.7 L632.4 220.9 L634.0 224.1 M636.9 230.1 L638.4 233.4 L639.7 236.4 M642.1 242.3 L643.4 245.5 L644.5 248.5 M646.6 254.3 L647.7 257.5 L648.7 260.8 M650.3 266.3 L651.2 269.5 L652.0 272.5 M653.4 278.0 L654.2 281.3 L654.9 284.5 M656.1 290.0 L656.7 293.3 L657.2 296.3 M658.2 301.8 L658.7 305.0 L659.2 308.3 M659.8 313.3 L660.3 316.8 L660.7 320.0 M661.2 325.0 L661.5 328.3 L661.8 331.5 M662.2 336.8 L662.4 340.0 L662.7 343.3 M662.9 348.3 L663.1 351.5 L663.3 354.8 M663.4 359.8 L663.5 363.3 L663.6 366.5 M663.7 371.3 L663.8 374.8 L663.8 378.0 M663.8 383.0 L663.8 386.3 L663.8 389.5 M663.8 394.5 L663.7 397.8 L663.7 401.0 M663.6 406.0 L663.5 409.3 L663.4 412.5 M663.2 417.5 L663.1 420.8 L663.0 424.0 M662.8 429.0 L662.7 432.3 L662.6 435.5 M662.3 440.5 L662.2 443.8 L662.0 447.0 M661.7 452.3 L661.6 455.5 L661.4 458.8 M661.4 463.8 L661.5 467.0 L661.6 470.3 M661.7 475.3 L661.7 478.5 L661.8 481.8 M661.9 486.8 L662.0 490.0 L662.1 493.3 M662.2 498.3 L662.3 500.8 L662.3 503.3 M543.0 76.9 L546.2 80.1 L549.1 83.1 M556.0 90.1 L559.2 93.2 L562.2 96.2 M568.9 103.0 L572.0 106.2 L574.9 109.2 M581.5 115.9 L584.5 119.1 L587.4 122.1 M593.7 128.9 L596.6 132.1 L599.3 135.1 M605.1 141.7 L607.8 144.9 L610.4 147.9 M615.7 154.5 L618.2 157.7 L620.5 160.7 M625.2 167.1 L627.5 170.3 L629.7 173.5 M633.7 179.5 L635.7 182.7 L637.7 186.0 M641.2 192.0 L643.0 195.2 L644.7 198.4 M647.7 204.2 L649.2 207.4 L650.7 210.7 M653.2 216.4 L654.5 219.5 L655.8 222.8 M658.0 228.5 L659.1 231.8 L660.2 235.0 M661.9 240.5 L662.9 243.8 L663.8 247.0 M665.2 252.5 L666.0 255.8 L666.8 259.0 M667.9 264.3 L668.6 267.5 L669.2 270.8 M670.1 276.0 L670.7 279.3 L671.2 282.5 M671.9 287.8 L672.3 291.0 L672.7 294.3 M673.3 299.5 L673.6 302.8 L673.9 306.0 M674.3 311.0 L674.5 314.5 L674.8 317.8 M675.0 322.8 L675.2 326.0 L675.3 329.3 M675.5 334.3 L675.6 337.5 L675.6 340.8 M675.7 345.8 L675.7 349.0 L675.8 352.3 M675.8 357.3 L675.7 360.5 L675.7 363.8 M675.6 368.8 L675.5 372.0 L675.5 375.3 M675.3 380.3 L675.2 383.5 L675.1 386.8 M674.9 392.0 L674.7 395.3 L674.6 398.5 M674.4 403.5 L674.2 406.8 L674.0 410.0 M673.7 415.0 L673.5 418.3 L673.3 421.5 M673.0 426.8 L672.8 430.0 L672.6 433.3 M672.2 438.3 L672.0 441.5 L671.7 444.8 M671.4 449.8 L671.3 453.3 L671.3 456.5 M671.3 461.3 L671.3 464.8 L671.3 468.0 M671.3 472.8 L671.3 476.3 L671.3 479.5 M671.4 484.5 L671.4 487.8 L671.4 491.0 M671.4 496.0 L671.5 499.3 L671.5 502.5 M580.1 80.9 L583.3 84.1 L586.2 87.1 M592.7 93.8 L595.8 97.0 L598.6 100.0 M604.9 106.7 L607.8 109.9 L610.6 112.9 M616.6 119.7 L619.3 122.9 L621.9 125.9 M627.1 132.3 L629.7 135.5 L632.2 138.7 M636.9 145.0 L639.2 148.2 L641.5 151.4 M645.7 157.7 L647.7 160.9 L649.6 163.9 M653.3 170.1 L655.1 173.3 L656.7 176.3 M659.8 182.3 L661.4 185.5 L662.9 188.7 M665.5 194.5 L666.8 197.5 L668.1 200.8 M670.3 206.5 L671.4 209.8 L672.5 213.0 M674.3 218.5 L675.2 221.8 L676.2 225.0 M677.6 230.5 L678.4 233.8 L679.2 237.0 M680.3 242.3 L681.0 245.5 L681.6 248.8 M682.5 254.0 L683.0 257.3 L683.5 260.5 M684.2 265.8 L684.6 269.0 L685.0 272.3 M685.6 277.5 L685.9 280.8 L686.1 284.0 M686.5 289.0 L686.7 292.5 L686.9 295.8 M687.2 300.8 L687.3 304.0 L687.4 307.3 M687.5 312.3 L687.6 315.5 L687.6 318.8 M687.7 323.8 L687.7 327.0 L687.7 330.3 M687.6 335.3 L687.6 338.5 L687.5 341.8 M687.4 346.8 L687.3 350.0 L687.1 353.3 M686.9 358.3 L686.8 361.8 L686.6 365.0 M686.4 370.0 L686.2 373.3 L686.0 376.5 M685.7 381.5 L685.5 384.8 L685.3 388.0 M684.9 393.0 L684.7 396.5 L684.4 399.8 M684.1 404.8 L683.8 408.0 L683.5 411.3 M683.1 416.3 L682.9 419.5 L682.6 422.8 M682.1 428.0 L681.8 431.3 L681.5 434.5 M681.1 439.5 L680.8 443.0 L680.7 446.3 M680.6 451.3 L680.5 454.5 L680.5 457.8 M680.4 462.8 L680.4 466.0 L680.3 469.3 M680.3 474.3 L680.2 477.5 L680.2 480.8 M680.2 485.8 L680.1 489.0 L680.1 492.3 M680.1 497.3 L680.1 500.3 L680.1 503.3 M605.9 74.5 L607.7 76.4 L609.3 78.1 M615.7 84.8 L618.6 88.0 L621.3 91.0 M627.2 97.6 L630.0 100.7 L632.7 103.9 M638.1 110.3 L640.7 113.5 L643.2 116.7 M648.0 122.9 L650.3 126.2 L652.6 129.4 M656.9 135.6 L659.0 138.8 L661.1 142.0 M664.8 148.1 L666.7 151.4 L668.4 154.4 M671.5 160.4 L673.2 163.6 L674.7 166.8 M677.3 172.6 L678.7 175.8 L680.1 179.0 M682.3 184.8 L683.5 188.0 L684.5 191.0 M686.4 196.8 L687.4 200.0 L688.2 203.0 M689.7 208.5 L690.5 211.8 L691.3 215.0 M692.5 220.5 L693.1 223.8 L693.8 227.0 M694.7 232.3 L695.2 235.5 L695.7 238.8 M696.4 244.0 L696.7 246.5 L697.0 249.1 M697.0 360.2 L696.8 362.3 L696.7 364.3 M696.3 369.5 L696.0 372.8 L695.7 376.0 M695.3 381.0 L695.0 384.3 L694.7 387.5 M694.2 392.8 L693.9 396.0 L693.6 399.3 M693.1 404.3 L692.8 407.5 L692.4 410.8 M691.9 416.0 L691.6 419.3 L691.2 422.5 M690.7 427.5 L690.3 430.8 L690.0 434.0 M689.6 439.3 L689.5 442.5 L689.4 445.8 M689.3 450.8 L689.2 454.0 L689.1 457.3 M688.9 462.3 L688.8 465.8 L688.7 469.0 M688.6 474.0 L688.5 477.3 L688.5 480.5 M688.3 485.5 L688.3 488.8 L688.2 492.0 M688.1 497.0 L688.1 500.3 L688.0 503.3 M637.4 75.6 L640.1 78.7 L642.9 81.9 M648.5 88.5 L651.2 91.7 L653.6 94.7 M658.6 101.1 L661.0 104.3 L663.4 107.5 M667.7 113.7 L669.9 116.9 L672.0 120.2 M675.8 126.2 L677.7 129.4 L679.6 132.7 M682.9 138.7 L684.5 141.9 L686.0 144.9 M688.9 150.9 L690.3 154.1 L691.6 157.1 M693.9 163.0 L695.1 166.3 L696.2 169.3 M697.0 459.7 L696.8 463.0 L696.7 466.3 M696.5 471.3 L696.4 474.5 L696.3 477.8 M696.1 482.8 L696.0 486.0 L695.9 489.3 M695.7 494.3 L695.6 497.5 L695.6 500.8" stroke="#00ff00" fill="none" stroke-width="1" shape-rendering="auto"/>
<path d="M147.9 503.3 L150.1 500.6 L152.4 498.0 M158.1 491.3 L160.7 488.3 L163.3 485.2 M169.1 478.5 L171.8 475.3 L174.5 472.3 M180.0 465.8 L182.8 462.5 L185.5 459.5 M191.0 453.0 L193.8 449.8 L196.5 446.7 M202.1 440.3 L204.9 437.0 L207.5 434.0 M213.1 427.5 L215.9 424.3 L218.6 421.2 M224.4 414.5 L227.0 411.5 L229.7 408.4 M235.5 401.8 L238.3 398.5 L241.0 395.5 M246.6 389.0 L249.5 385.8 L252.1 382.7 M257.8 376.3 L260.7 373.0 L263.3 370.0 M269.2 363.3 L271.9 360.3 L274.5 357.2 M280.4 350.5 L283.3 347.3 L285.9 344.3 M291.7 337.8 L294.5 334.5 L297.2 331.5 M303.1 324.8 L305.8 321.8 L308.5 318.7 M314.4 312.1 L317.3 308.8 L320.0 305.8 M325.7 299.3 L328.6 296.1 L331.3 293.0 M337.3 286.4 L340.0 283.3 L342.7 280.3 M348.6 273.6 L351.5 270.4 L354.3 267.3 M360.0 260.8 L362.9 257.6 L365.7 254.5 M371.6 247.9 L374.5 244.6 L377.3 241.6 M383.1 235.1 L386.0 231.9 L388.7 228.8 M394.7 222.2 L397.7 218.9 L400.4 215.9 M406.3 209.4 L409.2 206.2 L411.9 203.1 M418.0 196.4 L420.9 193.2 L423.6 190.2 M429.5 183.7 L432.4 180.4 L435.2 177.4 M441.2 170.7 L444.2 167.5 L447.0 164.4 M452.8 158.0 L455.8 154.7 L458.6 151.7 M464.6 145.0 L467.6 141.8 L470.4 138.7 M476.3 132.3 L479.2 129.0 L482.0 126.0 M488.1 119.3 L491.1 116.1 L493.9 113.0 M500.0 106.4 L502.8 103.3 L505.6 100.3 M511.7 93.6 L514.7 90.4 L517.5 87.3 M523.6 80.6 L526.4 77.6 L529.3 74.5 M194.1 503.3 L196.1 500.9 L197.9 498.7 M203.2 492.3 L205.9 489.1 L208.6 485.9 M213.9 479.5 L216.6 476.3 L219.2 473.1 M224.6 466.7 L227.3 463.5 L229.8 460.5 M235.3 453.9 L238.0 450.7 L240.5 447.7 M246.1 441.1 L248.8 437.9 L251.3 434.9 M256.7 428.5 L259.4 425.3 L262.1 422.1 M267.5 415.7 L270.3 412.5 L273.0 409.3 M278.4 402.9 L281.1 399.7 L283.7 396.6 M289.2 390.2 L292.0 386.9 L294.6 383.9 M300.1 377.4 L302.9 374.2 L305.5 371.1 M311.2 364.4 L313.8 361.4 L316.4 358.4 M322.2 351.7 L324.9 348.4 L327.6 345.4 M333.1 338.9 L335.9 335.7 L338.5 332.6 M344.1 326.2 L346.9 322.9 L349.6 319.9 M355.2 313.4 L358.0 310.2 L360.6 307.1 M366.2 300.6 L369.0 297.4 L371.7 294.4 M377.5 287.7 L380.1 284.6 L382.8 281.6 M388.6 274.9 L391.4 271.7 L394.1 268.6 M399.7 262.2 L402.6 258.9 L405.2 255.9 M410.9 249.4 L413.7 246.2 L416.4 243.1 M422.3 236.4 L425.0 233.4 L427.6 230.4 M433.5 223.7 L436.4 220.4 L439.0 217.4 M444.8 210.9 L447.6 207.7 L450.3 204.6 M456.2 198.0 L458.9 194.9 L461.6 191.9 M467.5 185.2 L470.4 182.0 L473.1 178.9 M478.8 172.4 L481.7 169.2 L484.4 166.2 M490.4 159.5 L493.1 156.4 L495.8 153.4 M501.7 146.7 L504.6 143.5 L507.4 140.4 M513.1 134.0 L516.0 130.7 L518.8 127.7 M524.7 121.0 L527.6 117.8 L530.4 114.7 M536.2 108.3 L539.1 105.0 L541.9 102.0 M547.9 95.3 L550.8 92.1 L553.5 89.0 M559.4 82.5 L562.3 79.3 L565.0 76.3 M260.2 503.3 L261.1 502.1 L262.1 500.9 M267.2 494.5 L269.7 491.3 L272.1 488.3 M277.2 481.9 L279.8 478.7 L282.2 475.7 M287.5 469.1 L290.0 465.9 L292.4 462.9 M297.6 456.5 L300.2 453.3 L302.6 450.3 M307.9 443.7 L310.5 440.5 L312.9 437.5 M318.1 431.1 L320.7 427.9 L323.3 424.7 M328.5 418.3 L331.1 415.1 L333.5 412.1 M338.7 405.7 L341.3 402.5 L344.0 399.3 M349.2 392.9 L351.8 389.7 L354.3 386.7 M359.7 380.1 L362.3 376.9 L364.8 373.9 M370.0 367.5 L372.7 364.3 L375.3 361.1 M380.6 354.7 L383.2 351.5 L385.7 348.5 M391.2 341.9 L393.8 338.7 L396.3 335.7 M401.7 329.3 L404.3 326.1 L407.0 322.9 M412.3 316.5 L415.0 313.3 L417.7 310.1 M423.0 303.7 L425.7 300.5 L428.2 297.5 M433.7 290.9 L436.4 287.7 L438.9 284.7 M444.5 278.1 L447.2 274.9 L449.7 271.9 M455.1 265.5 L457.8 262.3 L460.5 259.1 M465.9 252.7 L468.6 249.5 L471.3 246.3 M476.8 239.9 L479.5 236.7 L482.0 233.7 M487.6 227.1 L490.4 223.9 L493.0 220.8 M498.5 214.4 L501.3 211.1 L503.9 208.1 M509.4 201.6 L512.2 198.4 L514.8 195.3 M520.3 188.8 L523.1 185.6 L525.7 182.5 M531.3 176.1 L534.1 172.8 L536.7 169.8 M542.5 163.1 L545.3 159.9 L547.9 156.8 M553.5 150.4 L556.3 147.1 L558.9 144.1 M564.5 137.6 L567.4 134.4 L570.0 131.3 M575.6 124.8 L578.4 121.6 L581.1 118.5 M586.7 112.1 L589.6 108.8 L592.2 105.8 M598.0 99.1 L600.9 95.9 L603.5 92.8 M609.2 86.4 L612.0 83.1 L614.7 80.1 M318.0 498.5 L320.5 495.3 L322.9 492.1 M327.7 485.9 L330.1 482.7 L332.6 479.5 M337.5 473.1 L340.0 469.9 L342.3 466.9 M347.3 460.5 L349.7 457.3 L352.1 454.3 M357.0 447.9 L359.5 444.7 L362.0 441.5 M367.0 435.1 L369.5 431.9 L371.8 428.9 M376.9 422.5 L379.4 419.3 L381.7 416.3 M386.7 409.9 L389.3 406.7 L391.8 403.5 M396.8 397.1 L399.4 393.9 L401.7 390.9 M406.8 384.5 L409.3 381.3 L411.9 378.1 M416.9 371.7 L419.5 368.5 L421.9 365.5 M427.0 359.1 L429.5 355.9 L432.1 352.7 M437.2 346.3 L439.8 343.1 L442.2 340.1 M447.3 333.7 L449.9 330.5 L452.5 327.3 M457.6 320.9 L460.2 317.7 L462.6 314.7 M467.8 308.3 L470.4 305.1 L473.0 301.9 M478.2 295.5 L480.8 292.3 L483.2 289.3 M488.4 282.9 L491.1 279.7 L493.7 276.5 M498.9 270.1 L501.5 266.9 L504.0 263.9 M509.4 257.3 L512.0 254.1 L514.5 251.1 M519.7 244.7 L522.4 241.5 L525.0 238.3 M530.3 231.9 L532.9 228.7 L535.4 225.7 M540.9 219.1 L543.5 215.9 L546.0 212.9 M551.3 206.5 L554.0 203.3 L556.6 200.1 M562.0 193.7 L564.6 190.5 L567.3 187.3 M572.6 180.9 L575.3 177.7 L577.8 174.7 M583.4 168.1 L586.0 164.9 L588.6 161.9 M594.1 155.3 L596.8 152.1 L599.3 149.1 M604.7 142.7 L607.4 139.5 L610.1 136.3 M615.5 129.9 L618.2 126.7 L620.8 123.7 M626.4 117.1 L629.1 113.9 L631.6 110.9 M637.3 104.3 L640.0 101.0 L642.6 98.0 M648.1 91.5 L650.9 88.3 L653.5 85.2 M659.0 78.7 L660.8 76.6 L662.7 74.5 M348.7 502.2 L351.1 499.1 L353.3 496.1 M358.1 489.6 L360.5 486.5 L362.7 483.5 M367.5 477.1 L369.9 473.9 L372.3 470.7 M377.0 464.5 L379.4 461.3 L381.8 458.1 M386.5 451.9 L388.9 448.7 L391.3 445.5 M396.2 439.1 L398.6 435.9 L400.9 432.9 M405.8 426.5 L408.3 423.3 L410.6 420.3 M415.5 413.9 L417.9 410.7 L420.2 407.7 M425.1 401.3 L427.6 398.1 L430.1 394.9 M435.0 388.5 L437.5 385.3 L439.8 382.3 M444.8 375.9 L447.3 372.7 L449.6 369.7 M454.6 363.3 L457.1 360.1 L459.6 356.9 M464.6 350.5 L467.1 347.3 L469.5 344.3 M474.5 337.9 L477.0 334.7 L479.4 331.7 M484.4 325.3 L486.9 322.1 L489.5 318.9 M494.5 312.5 L497.1 309.3 L499.4 306.3 M504.5 299.9 L507.1 296.7 L509.6 293.5 M514.7 287.1 L517.3 283.9 L519.7 280.9 M524.8 274.5 L527.3 271.3 L529.9 268.1 M535.0 261.7 L537.6 258.5 L540.0 255.5 M545.2 249.1 L547.8 245.9 L550.3 242.7 M555.5 236.3 L558.1 233.1 L560.5 230.1 M565.7 223.7 L568.3 220.5 L570.9 217.3 M576.1 210.9 L578.7 207.7 L581.2 204.7 M586.6 198.1 L589.2 194.9 L591.6 191.9 M596.9 185.5 L599.5 182.3 L602.1 179.1 M607.4 172.7 L610.0 169.5 L612.5 166.5 M617.9 159.9 L620.6 156.7 L623.1 153.7 M628.4 147.3 L631.0 144.1 L633.7 140.9 M639.0 134.5 L641.6 131.3 L644.1 128.3 M649.6 121.7 L652.3 118.5 L654.8 115.5 M660.3 108.9 L663.0 105.7 L665.5 102.7 M670.8 96.3 L673.5 93.1 L676.2 89.9 M681.6 83.5 L684.3 80.3 L686.8 77.3 M372.6 503.3 L373.8 501.6 L375.1 499.9 M379.7 493.6 L382.0 490.5 L384.3 487.3 M388.9 481.0 L391.3 477.8 L393.6 474.7 M398.3 468.3 L400.6 465.2 L402.9 462.0 M407.6 455.7 L410.0 452.6 L412.3 449.4 M417.0 443.1 L419.4 439.9 L421.7 436.8 M426.4 430.5 L428.8 427.3 L431.1 424.3 M435.9 417.9 L438.3 414.7 L440.7 411.5 M445.4 405.3 L447.8 402.1 L450.2 398.9 M454.9 392.7 L457.3 389.5 L459.8 386.3 M464.7 379.9 L467.1 376.7 L469.4 373.7 M474.3 367.3 L476.7 364.1 L479.0 361.1 M484.0 354.7 L486.4 351.5 L488.9 348.3 M493.7 342.1 L496.1 338.9 L498.6 335.7 M503.6 329.3 L506.0 326.1 L508.4 323.1 M513.3 316.7 L515.8 313.5 L518.2 310.5 M523.2 304.1 L525.7 300.9 L528.2 297.7 M533.2 291.3 L535.7 288.1 L538.1 285.1 M543.1 278.7 L545.6 275.5 L548.0 272.5 M553.0 266.1 L555.6 262.9 L558.1 259.7 M563.2 253.3 L565.7 250.1 L568.1 247.1 M573.2 240.7 L575.7 237.5 L578.3 234.3 M583.4 227.9 L586.0 224.7 L588.4 221.7 M593.5 215.3 L596.1 212.1 L598.6 208.9 M603.8 202.5 L606.4 199.3 L608.8 196.3 M613.9 189.9 L616.5 186.7 L619.1 183.5 M624.3 177.1 L626.9 173.9 L629.3 170.9 M634.7 164.3 L637.3 161.1 L639.7 158.1 M644.9 151.7 L647.6 148.5 L650.2 145.3 M655.4 138.9 L658.0 135.7 L660.5 132.7 M665.7 126.3 L668.4 123.1 L671.0 119.9 M676.3 113.5 L678.9 110.3 L681.5 107.1 M686.8 100.7 L689.5 97.5 L692.0 94.5 M410.2 501.2 L412.4 498.0 L414.7 494.9 M419.0 488.8 L421.3 485.6 L423.5 482.5 M428.0 476.1 L430.3 473.0 L432.5 469.8 M437.1 463.5 L439.3 460.3 L441.6 457.2 M446.2 450.9 L448.5 447.7 L450.6 444.8 M455.2 438.5 L457.5 435.3 L459.8 432.1 M464.4 425.8 L466.7 422.7 L469.0 419.5 M473.6 413.2 L475.9 410.0 L478.3 406.9 M482.9 400.6 L485.2 397.4 L487.6 394.2 M492.2 387.9 L494.6 384.8 L496.9 381.6 M501.6 375.3 L504.0 372.1 L506.3 369.0 M511.0 362.7 L513.4 359.5 L515.6 356.6 M520.5 350.1 L522.9 346.9 L525.1 343.9 M529.9 337.5 L532.3 334.3 L534.6 331.3 M539.5 324.9 L541.9 321.7 L544.3 318.5 M549.0 312.3 L551.5 309.1 L553.9 305.9 M558.8 299.5 L561.2 296.3 L563.5 293.3 M568.4 286.9 L570.9 283.7 L573.2 280.7 M578.1 274.3 L580.6 271.1 L583.1 267.9 M587.9 261.7 L590.3 258.5 L592.8 255.3 M597.8 248.9 L600.3 245.7 L602.6 242.7 M607.6 236.3 L610.1 233.1 L612.4 230.1 M617.4 223.7 L619.9 220.5 L622.4 217.3 M627.5 210.9 L630.0 207.7 L632.4 204.7 M637.4 198.3 L639.9 195.1 L642.5 191.9 M647.5 185.5 L650.1 182.3 L652.4 179.3 M657.5 172.9 L660.1 169.7 L662.4 166.7 M667.7 160.1 L670.3 156.9 L672.7 153.9 M677.8 147.5 L680.3 144.3 L682.7 141.3 M688.0 134.7 L690.6 131.5 L693.0 128.5 M435.3 503.3 L435.6 502.9 L435.7 502.7 M440.1 496.3 L442.3 493.2 L444.5 490.0 M448.7 483.9 L450.9 480.8 L453.1 477.6 M457.5 471.3 L459.8 468.1 L462.0 465.0 M466.4 458.7 L468.6 455.5 L470.9 452.3 M475.2 446.2 L477.4 443.1 L479.7 439.9 M484.2 433.6 L486.4 430.5 L488.7 427.3 M493.2 421.0 L495.4 417.8 L497.7 414.7 M502.1 408.6 L504.4 405.4 L506.7 402.2 M511.2 395.9 L513.5 392.8 L515.8 389.6 M520.4 383.3 L522.7 380.1 L525.0 377.0 M529.6 370.7 L531.9 367.5 L534.2 364.3 M538.8 358.0 L541.2 354.9 L543.5 351.7 M548.1 345.4 L550.5 342.2 L552.6 339.3 M557.3 333.0 L559.7 329.8 L562.0 326.7 M566.7 320.3 L569.1 317.2 L571.4 314.0 M576.1 307.7 L578.5 304.6 L580.9 301.4 M585.6 295.1 L588.0 291.9 L590.4 288.7 M595.2 282.3 L597.7 279.1 L599.9 276.1 M604.8 269.7 L607.2 266.5 L609.5 263.5 M614.4 257.1 L616.8 253.9 L619.1 250.9 M624.0 244.5 L626.4 241.3 L628.9 238.1 M633.6 231.9 L636.1 228.7 L638.6 225.5 M643.5 219.1 L646.0 215.9 L648.3 212.9 M653.2 206.5 L655.7 203.3 L658.0 200.3 M663.0 193.9 L665.5 190.7 L668.0 187.5 M673.0 181.1 L675.5 177.9 L677.8 174.9 M682.8 168.5 L685.3 165.3 L687.7 162.3 M692.7 155.9 L694.8 153.3 L696.9 150.6 M476.9 499.1 L479.1 495.9 L481.2 492.8 M485.3 486.7 L487.4 483.5 L489.5 480.3 M493.8 474.0 L495.9 470.9 L498.1 467.7 M502.2 461.6 L504.3 458.5 L506.5 455.3 M510.7 449.2 L512.8 446.0 L515.0 442.9 M519.3 436.6 L521.5 433.4 L523.7 430.2 M528.1 423.9 L530.3 420.8 L532.3 417.8 M536.7 411.5 L538.9 408.3 L541.1 405.2 M545.5 398.9 L547.7 395.7 L549.9 392.6 M554.2 386.5 L556.5 383.3 L558.7 380.1 M563.2 373.8 L565.4 370.7 L567.6 367.5 M572.1 361.2 L574.4 358.0 L576.6 354.9 M581.0 348.8 L583.2 345.6 L585.5 342.5 M590.1 336.1 L592.3 333.0 L594.6 329.8 M599.2 323.5 L601.4 320.3 L603.7 317.2 M608.3 310.9 L610.6 307.7 L612.9 304.6 M617.4 298.5 L619.7 295.3 L622.0 292.1 M626.6 285.8 L628.9 282.7 L631.3 279.5 M635.9 273.2 L638.2 270.0 L640.6 266.9 M645.3 260.6 L647.6 257.4 L649.9 254.2 M654.6 247.9 L657.0 244.8 L659.3 241.6 M664.1 235.3 L666.4 232.1 L668.8 229.0 M673.5 222.7 L675.9 219.5 L678.3 216.3 M683.0 210.1 L685.4 206.9 L687.8 203.7 M692.5 197.5 L694.8 194.5 L696.9 191.7 M503.7 501.8 L505.7 498.7 L507.8 495.5 M511.8 489.4 L513.8 486.2 L515.9 483.1 M519.9 477.0 L522.0 473.8 L524.1 470.7 M528.1 464.6 L530.3 461.2 L532.4 458.0 M536.5 451.9 L538.6 448.8 L540.7 445.6 M544.8 439.5 L546.9 436.3 L549.0 433.2 M553.3 426.9 L555.4 423.7 L557.5 420.6 M561.7 414.5 L563.8 411.3 L566.0 408.1 M570.3 401.8 L572.4 398.7 L574.6 395.5 M578.8 389.4 L580.9 386.2 L583.1 383.1 M587.5 376.8 L589.7 373.6 L591.8 370.5 M596.1 364.3 L598.3 361.2 L600.5 358.0 M604.9 351.7 L607.1 348.6 L609.3 345.4 M613.6 339.3 L615.8 336.1 L618.0 333.0 M622.5 326.7 L624.7 323.5 L627.0 320.3 M631.4 314.0 L633.7 310.9 L635.9 307.7 M640.3 301.6 L642.5 298.5 L644.8 295.3 M649.3 289.0 L651.6 285.8 L653.9 282.7 M658.4 276.3 L660.7 273.2 L663.0 270.0 M667.6 263.7 L669.9 260.6 L672.2 257.4 M676.6 251.3 L678.9 248.1 L681.2 245.0 M685.8 238.7 L688.2 235.5 L690.5 232.3 M695.1 226.1 L696.0 224.8 L696.9 223.6 M525.5 503.3 L527.1 500.8 L528.6 498.4 M532.6 492.2 L534.6 489.1 L536.6 486.0 M540.6 479.7 L542.6 476.6 L544.6 473.4 M548.5 467.3 L550.6 464.1 L552.6 461.0 M556.6 454.9 L558.7 451.7 L560.7 448.6 M564.8 442.2 L566.9 439.1 L569.0 435.9 M573.0 429.8 L575.1 426.7 L577.2 423.5 M581.2 417.4 L583.3 414.2 L585.4 411.1 M589.6 404.8 L591.8 401.6 L593.9 398.5 M598.0 392.3 L600.1 389.2 L602.2 386.0 M606.3 379.9 L608.6 376.6 L610.8 373.4 M614.9 367.3 L617.1 364.1 L619.2 361.0 M623.4 354.9 L625.6 351.7 L627.7 348.6 M632.1 342.2 L634.3 339.1 L636.4 335.9 M640.8 329.6 L643.0 326.5 L645.0 323.5 M649.4 317.2 L651.6 314.0 L653.9 310.9 M658.3 304.6 L660.5 301.4 L662.7 298.2 M667.0 292.1 L669.2 289.0 L671.5 285.8 M675.9 279.5 L678.2 276.3 L680.4 273.2 M684.9 266.9 L687.2 263.7 L689.4 260.6 M693.8 254.5 L695.5 252.1 L696.9 250.1 M544.5 503.3 L545.2 502.2 L545.9 501.1 M549.8 494.8 L551.7 491.7 L553.7 488.6 M557.6 482.4 L559.5 479.3 L561.5 476.2 M565.4 470.0 L567.4 466.8 L569.4 463.7 M573.3 457.5 L575.3 454.4 L577.3 451.3 M581.2 445.2 L583.2 442.0 L585.3 438.9 M589.2 432.8 L591.3 429.6 L593.3 426.5 M597.4 420.1 L599.5 417.0 L601.5 413.8 M605.5 407.7 L607.6 404.6 L609.7 401.4 M613.7 395.3 L615.8 392.1 L617.9 389.0 M622.1 382.7 L624.2 379.5 L626.3 376.3 M630.4 370.2 L632.5 367.1 L634.6 363.9 M638.7 357.8 L640.8 354.7 L642.9 351.5 M647.2 345.2 L649.4 342.0 L651.5 338.9 M655.7 332.8 L657.8 329.6 L660.0 326.5 M664.3 320.1 L666.5 317.0 L668.6 313.8 M672.8 307.7 L675.0 304.6 L677.2 301.4 M681.6 295.1 L683.8 291.9 L686.0 288.8 M690.2 282.7 L692.4 279.5 L694.6 276.3 M568.3 503.3 L569.6 501.1 L571.0 498.8 M574.6 492.8 L576.5 489.7 L578.4 486.6 M582.2 480.4 L584.1 477.3 L586.0 474.2 M589.9 468.0 L591.8 464.8 L593.7 461.7 M597.6 455.5 L599.5 452.4 L601.5 449.3 M605.4 443.1 L607.3 440.0 L609.3 436.8 M613.2 430.6 L615.2 427.5 L617.2 424.4 M621.1 418.2 L623.1 415.1 L625.1 412.0 M629.0 405.8 L631.1 402.7 L633.1 399.5 M637.0 393.4 L639.1 390.2 L641.1 387.1 M645.2 380.8 L647.3 377.6 L649.4 374.5 M653.4 368.3 L655.4 365.2 L657.5 362.0 M661.5 355.9 L663.6 352.8 L665.7 349.6 M669.9 343.3 L672.0 340.1 L674.1 337.0 M678.2 330.9 L680.3 327.7 L682.4 324.6 M686.5 318.5 L688.6 315.3 L690.8 312.1 M695.0 305.8 L696.0 304.3 L696.9 303.0 M599.6 503.3 L600.8 501.3 L601.8 499.5 M605.4 493.5 L607.3 490.2 L609.2 487.1 M612.7 481.1 L614.5 478.0 L616.4 474.8 M620.1 468.6 L622.0 465.5 L623.8 462.4 M627.4 456.4 L629.4 453.1 L631.3 450.0 M635.0 444.0 L637.0 440.6 L638.9 437.5 M642.6 431.5 L644.6 428.2 L646.5 425.1 M650.2 419.1 L652.1 416.0 L654.1 412.8 M657.9 406.6 L659.9 403.5 L661.8 400.4 M665.7 394.2 L667.7 391.1 L669.6 388.0 M673.5 381.7 L675.5 378.6 L677.5 375.5 M681.4 369.3 L683.4 366.2 L685.4 363.1 M689.4 356.8 L691.5 353.6 L693.5 350.5 M624.5 503.3 L625.4 501.7 L626.3 500.2 M629.7 494.2 L631.6 490.8 L633.4 487.7 M636.8 481.7 L638.6 478.6 L640.4 475.5 M643.9 469.5 L645.8 466.2 L647.6 463.1 M651.2 457.1 L653.1 453.7 L654.9 450.6 M658.5 444.6 L660.3 441.5 L662.2 438.4 M665.9 432.2 L667.7 429.1 L669.6 426.0 M673.2 420.0 L675.2 416.6 L677.1 413.5 M680.7 407.5 L682.7 404.2 L684.6 401.1 M688.3 395.1 L690.3 391.7 L692.2 388.6 M695.9 382.7 L696.4 381.8 L696.9 381.0 M645.2 503.3 L646.0 502.0 L646.6 500.8 M649.9 494.8 L651.7 491.5 L653.5 488.4 M656.8 482.4 L658.6 479.3 L660.3 476.2 M663.7 470.2 L665.6 466.8 L667.4 463.7 M670.8 457.7 L672.7 454.4 L674.5 451.3 M678.0 445.3 L679.8 442.2 L681.6 439.1 M685.0 433.1 L687.0 429.7 L688.8 426.6 M692.3 420.6 L694.2 417.5 L696.0 414.4 M678.4 503.3 L678.8 502.6 L679.1 502.0 M682.3 496.0 L684.0 492.8 L685.6 489.7 M688.9 483.7 L690.6 480.4 L692.3 477.3 M695.5 471.5 L696.2 470.1 L696.9 468.8" stroke="#520090" fill="none" stroke-width="1" shape-rendering="auto"/>
<path d="M87 74.5 H697 M87 201.5 H697 M87 275.5 H697 M87 327.5 H697 M87 368.5 H697 M87 401.5 H697 M87 429.5 H697 M87 453.5 H697 M87 475.5 H697 M87 494.5 H697 M87 503.5 H697 M87.5 74 V504" stroke="#000" fill="none" stroke-width="1"/>
<path d="M603.5 480.5 H606.9 M599.4 477.5 H606.7 M595.4 474.5 H606.5 M591.4 471.5 H606.4 M587.4 468.5 H606.1 M583.3 465.5 H605.6 M581.5 461.5 H605.0 M581.4 458.5 H604.6 M581.2 455.5 H604.1 M581.1 451.5 H603.6 M580.9 448.5 H603.2 M580.9 444.5 H602.7 M580.9 441.5 H602.3 M580.9 437.5 H601.8 M580.9 433.5 H601.3 M580.6 429.5 H600.8 M577.4 425.5 H599.9 M574.3 421.5 H599.0 M571.2 417.5 H598.0 M568.0 413.5 H597.0 M564.7 409.5 H596.0 M560.6 404.5 H594.8 M557.4 400.5 H593.8 M554.9 395.5 H592.7 M552.5 390.5 H591.6 M551.0 386.5 H590.8 M549.2 381.5 H589.6 M546.1 375.5 H587.8 M544.0 370.5 H586.3 M542.1 365.5 H584.6 M539.9 359.5 H582.7 M537.7 353.5 H580.3 M535.3 347.5 H577.5 M532.5 341.5 H574.6 M529.9 335.5 H571.6 M527.2 328.5 H567.9 M521.6 321.5 H563.9 M515.5 314.5 H559.4 M510.0 306.5 H553.6 M503.9 299.5 H547.5 M497.1 290.5 H541.5 M489.9 282.5 H536.4 M482.5 273.5 H530.1 M473.4 264.5 H522.6 M463.5 254.5 H512.6 M452.9 243.5 H502.5 M444.7 232.5 H490.7 M433.5 220.5 H479.2 M424.6 208.5 H465.6 M417.0 194.5 H451.6 M410.7 179.5 H436.1 M403.6 163.5 H419.8" stroke="#520090" fill="none" stroke-width="1"/>
<g shape-rendering="auto" fill="none" stroke-linejoin="round" stroke-linecap="round">
<path d="M366.2 75.6 L371.0 112.6 L375.3 140.0 L380.9 164.1 L388.2 201.2 L398.6 215.6 L402.4 220.0 L409.1 229.3 L416.1 239.3 L438.6 264.3 L448.3 274.7 L457.9 289.2 L467.2 300.0 L474.0 309.3 L487.4 324.9 L494.6 341.8 L503.5 359.5 L508.3 371.6 L510.1 380.0 L511.8 389.3 L515.7 400.9 L527.0 420.2 L530.8 430.0 L536.7 436.3 L545.5 452.4 L551.7 463.8 L561.6 469.3 L581.5 481.5 L596.8 496.0" stroke="#0000ff" stroke-width="1.5"/>
<path d="M406.4 75.6 L400.8 118.3 L397.6 145.6 L397.3 148.9 L403.5 163.3 L410.7 179.4 L417.1 194.7 L419.9 202.0 L430.8 217.2 L433.0 220.0 L441.5 229.3 L445.1 232.9 L453.1 243.8 L463.6 254.6 L473.2 264.3 L483.7 274.7 L490.1 282.8 L497.4 290.8 L504.2 299.9 L511.0 307.7 L515.5 314.5 L526.8 327.4 L530.8 337.8 L536.4 349.9 L540.5 361.2 L545.3 374.0 L548.7 380.0 L552.0 389.5 L557.6 400.9 L568.9 414.6 L580.9 429.9 L580.9 447.6 L581.6 464.2 L604.8 481.5 L634.6 496.0" stroke="#ff0000" stroke-width="1.5"/>
<path d="M339.7 74.8 L370.2 112.6 L394.6 140.0 L417.1 163.3 L433.2 179.1 L449.3 194.7 L463.0 208.4 L476.2 220.0 L486.9 231.3 L499.8 243.3 L510.2 254.6 L519.9 264.3 L527.9 273.9 L535.2 284.4 L539.2 290.8 L545.3 300.0 L552.5 308.0 L560.6 320.1 L566.2 329.8 L572.7 342.6 L579.1 356.3 L583.9 370.8 L587.3 382.0 L591.4 400.9 L596.2 420.2 L598.4 430.0 L601.2 452.5 L603.8 470.0 L604.4 481.2 L634.6 496.0" stroke="#520090" stroke-width="1.8"/>
</g>
<rect x="365" y="75" width="3" height="3" fill="#0000ff"/><rect x="405" y="75" width="3" height="3" fill="#ff0000"/><rect x="580" y="480" width="3" height="3" fill="#0000ff"/><rect x="595.5" y="495" width="3" height="3" fill="#0000ff"/>
<g shape-rendering="auto" class="t">
<text x="86.3" y="52.0" font-size="16" fill="#000" stroke="#000" textLength="32.9" lengthAdjust="spacingAndGlyphs">AIRS</text>
<text x="128.5" y="52.0" font-size="16" fill="#000" stroke="#000" textLength="45.1" lengthAdjust="spacingAndGlyphs">SkewT</text>
<text x="184.9" y="52.0" font-size="16" fill="#000" stroke="#000" textLength="63.2" lengthAdjust="spacingAndGlyphs">Diagram</text>
<text x="481.0" y="52.0" font-size="16" fill="#000" stroke="#000" textLength="67.0" lengthAdjust="spacingAndGlyphs">(Lat/Lon</text>
<text x="558.0" y="52.0" font-size="16" fill="#000" stroke="#000" textLength="101.2" lengthAdjust="spacingAndGlyphs">5.85/128.24</text>
<text x="668.0" y="52.0" font-size="16" fill="#000" stroke="#000" textLength="34.0" lengthAdjust="spacingAndGlyphs">deg)</text>
<text y="52.0" font-size="16" fill="#000" stroke="#000"><tspan x="258.3" textLength="35.4" lengthAdjust="spacingAndGlyphs">2010</tspan><tspan x="294.9" textLength="14.9" lengthAdjust="spacingAndGlyphs">-</tspan><tspan x="311.6" textLength="18.9" lengthAdjust="spacingAndGlyphs">08</tspan><tspan x="333.0" textLength="15.3" lengthAdjust="spacingAndGlyphs">-</tspan><tspan x="350.5" textLength="119.1" lengthAdjust="spacingAndGlyphs">28/17:24:49.80</tspan></text>
<text y="66.0" font-size="10.7" fill="#ff0000" stroke="#ff0000"><tspan x="114.5" textLength="8.2" lengthAdjust="spacingAndGlyphs">-</tspan><tspan x="123.3" textLength="19.8" lengthAdjust="spacingAndGlyphs">120</tspan></text>
<text y="66.0" font-size="10.7" fill="#ff0000" stroke="#ff0000"><tspan x="181.8" textLength="8.2" lengthAdjust="spacingAndGlyphs">-</tspan><tspan x="190.6" textLength="18.7" lengthAdjust="spacingAndGlyphs">110</tspan></text>
<text y="66.0" font-size="10.7" fill="#ff0000" stroke="#ff0000"><tspan x="249.5" textLength="8.2" lengthAdjust="spacingAndGlyphs">-</tspan><tspan x="258.3" textLength="19.0" lengthAdjust="spacingAndGlyphs">100</tspan></text>
<text y="66.0" font-size="10.7" fill="#ff0000" stroke="#ff0000"><tspan x="324.1" textLength="8.2" lengthAdjust="spacingAndGlyphs">-</tspan><tspan x="332.9" textLength="10.6" lengthAdjust="spacingAndGlyphs">90</tspan></text>
<text y="66.0" font-size="10.7" fill="#ff0000" stroke="#ff0000"><tspan x="392.1" textLength="8.2" lengthAdjust="spacingAndGlyphs">-</tspan><tspan x="400.9" textLength="12.2" lengthAdjust="spacingAndGlyphs">80</tspan></text>
<text y="66.0" font-size="10.7" fill="#ff0000" stroke="#ff0000"><tspan x="459.5" textLength="8.2" lengthAdjust="spacingAndGlyphs">-</tspan><tspan x="468.3" textLength="11.6" lengthAdjust="spacingAndGlyphs">70</tspan></text>
<text y="66.0" font-size="10.7" fill="#ff0000" stroke="#ff0000"><tspan x="526.4" textLength="8.2" lengthAdjust="spacingAndGlyphs">-</tspan><tspan x="535.2" textLength="13.4" lengthAdjust="spacingAndGlyphs">60</tspan></text>
<text y="66.0" font-size="10.7" fill="#ff0000" stroke="#ff0000"><tspan x="594.4" textLength="8.2" lengthAdjust="spacingAndGlyphs">-</tspan><tspan x="603.2" textLength="13.4" lengthAdjust="spacingAndGlyphs">50</tspan></text>
<text y="66.0" font-size="10.7" fill="#ff0000" stroke="#ff0000"><tspan x="662.4" textLength="8.2" lengthAdjust="spacingAndGlyphs">-</tspan><tspan x="671.2" textLength="13.4" lengthAdjust="spacingAndGlyphs">40</tspan></text>
<text y="517.0" font-size="10.7" fill="#ff0000" stroke="#ff0000"><tspan x="87.1" textLength="8.2" lengthAdjust="spacingAndGlyphs">-</tspan><tspan x="96.0" textLength="12.7" lengthAdjust="spacingAndGlyphs">50</tspan></text>
<text y="517.0" font-size="10.7" fill="#ff0000" stroke="#ff0000"><tspan x="154.9" textLength="8.2" lengthAdjust="spacingAndGlyphs">-</tspan><tspan x="163.7" textLength="12.7" lengthAdjust="spacingAndGlyphs">40</tspan></text>
<text y="517.0" font-size="10.7" fill="#ff0000" stroke="#ff0000"><tspan x="222.7" textLength="8.2" lengthAdjust="spacingAndGlyphs">-</tspan><tspan x="231.5" textLength="12.7" lengthAdjust="spacingAndGlyphs">30</tspan></text>
<text y="517.0" font-size="10.7" fill="#ff0000" stroke="#ff0000"><tspan x="290.5" textLength="8.2" lengthAdjust="spacingAndGlyphs">-</tspan><tspan x="299.3" textLength="12.7" lengthAdjust="spacingAndGlyphs">20</tspan></text>
<text y="517.0" font-size="10.7" fill="#ff0000" stroke="#ff0000"><tspan x="358.2" textLength="8.2" lengthAdjust="spacingAndGlyphs">-</tspan><tspan x="367.1" textLength="12.7" lengthAdjust="spacingAndGlyphs">10</tspan></text>
<text x="433.9" y="517.0" font-size="10.7" fill="#ff0000" stroke="#ff0000" textLength="5.5" lengthAdjust="spacingAndGlyphs">0</text>
<text x="498.2" y="517.0" font-size="10.7" fill="#ff0000" stroke="#ff0000" textLength="12.5" lengthAdjust="spacingAndGlyphs">10</text>
<text x="566.0" y="517.0" font-size="10.7" fill="#ff0000" stroke="#ff0000" textLength="12.5" lengthAdjust="spacingAndGlyphs">20</text>
<text x="633.8" y="517.0" font-size="10.7" fill="#ff0000" stroke="#ff0000" textLength="12.5" lengthAdjust="spacingAndGlyphs">30</text>
<text x="677.7" y="517.2" font-size="11" fill="#ff0000" stroke="#ff0000" textLength="20.8" lengthAdjust="spacingAndGlyphs">T(C)</text>
<text x="673.8" y="526.8" font-size="13" fill="#520090" stroke="#520090" textLength="34.5" lengthAdjust="spacingAndGlyphs">(g/kg)</text>
<text x="48.4" y="74.8" font-size="10.9" fill="#000" stroke="#000" textLength="19.0" lengthAdjust="spacingAndGlyphs">100</text>
<text x="48.4" y="201.8" font-size="10.9" fill="#000" stroke="#000" textLength="19.0" lengthAdjust="spacingAndGlyphs">200</text>
<text x="48.4" y="275.8" font-size="10.9" fill="#000" stroke="#000" textLength="19.0" lengthAdjust="spacingAndGlyphs">300</text>
<text x="48.4" y="327.8" font-size="10.9" fill="#000" stroke="#000" textLength="19.0" lengthAdjust="spacingAndGlyphs">400</text>
<text x="48.4" y="368.8" font-size="10.9" fill="#000" stroke="#000" textLength="19.0" lengthAdjust="spacingAndGlyphs">500</text>
<text x="48.4" y="401.8" font-size="10.9" fill="#000" stroke="#000" textLength="19.0" lengthAdjust="spacingAndGlyphs">600</text>
<text x="48.4" y="429.8" font-size="10.9" fill="#000" stroke="#000" textLength="19.0" lengthAdjust="spacingAndGlyphs">700</text>
<text x="48.4" y="453.8" font-size="10.9" fill="#000" stroke="#000" textLength="19.0" lengthAdjust="spacingAndGlyphs">800</text>
<text x="48.4" y="475.8" font-size="10.9" fill="#000" stroke="#000" textLength="19.0" lengthAdjust="spacingAndGlyphs">900</text>
<text x="42.4" y="494.8" font-size="10.9" fill="#000" stroke="#000" textLength="25.8" lengthAdjust="spacingAndGlyphs">1000</text>
<text transform="translate(82.5 332.5) rotate(-90)" font-size="14" fill="#000" stroke="#000" textLength="105.7" lengthAdjust="spacingAndGlyphs">PRESSURE (MB)</text>
<text x="117.6" y="116.0" font-size="18.4" fill="#ff0000" stroke="#ff0000" textLength="71.3" lengthAdjust="spacingAndGlyphs">Ambient</text>
<text x="200.4" y="116.0" font-size="18.4" fill="#ff0000" stroke="#ff0000" textLength="19.5" lengthAdjust="spacingAndGlyphs">Air</text>
<text x="236.0" y="116.0" font-size="18.4" fill="#ff0000" stroke="#ff0000" textLength="43.7" lengthAdjust="spacingAndGlyphs">Temp</text>
<text x="118.8" y="137.8" font-size="18.4" fill="#0000ff" stroke="#0000ff" textLength="34.5" lengthAdjust="spacingAndGlyphs">Dew</text>
<text x="165.2" y="137.8" font-size="18.4" fill="#0000ff" stroke="#0000ff" textLength="43.2" lengthAdjust="spacingAndGlyphs">Point</text>
<text x="219.9" y="137.8" font-size="18.4" fill="#0000ff" stroke="#0000ff" textLength="47.1" lengthAdjust="spacingAndGlyphs">Temp</text>
<text x="117.0" y="159.7" font-size="18.4" fill="#520090" stroke="#520090" textLength="20.2" lengthAdjust="spacingAndGlyphs">Air</text>
<text x="152.1" y="159.7" font-size="18.4" fill="#520090" stroke="#520090" textLength="54.0" lengthAdjust="spacingAndGlyphs">Parcel</text>
<text x="216.5" y="159.7" font-size="18.4" fill="#520090" stroke="#520090" textLength="47.1" lengthAdjust="spacingAndGlyphs">Temp</text>
<text x="701.3" y="85.0" font-size="13.3" fill="#000" stroke="#000" textLength="43.7" lengthAdjust="spacingAndGlyphs">TP:100</text>
<text x="700.5" y="100.7" font-size="13.3" fill="#000" stroke="#000" textLength="50.3" lengthAdjust="spacingAndGlyphs">MW:N/A</text>
<text x="701.0" y="116.4" font-size="13.3" fill="#000" stroke="#000" textLength="51.5" lengthAdjust="spacingAndGlyphs">FRZ:582</text>
<text x="699.5" y="132.0" font-size="13.3" fill="#000" stroke="#000" textLength="56.0" lengthAdjust="spacingAndGlyphs">WB0:544</text>
<text x="699.5" y="147.7" font-size="13.3" fill="#000" stroke="#000" textLength="59.3" lengthAdjust="spacingAndGlyphs">PW:32.67</text>
<text x="701.0" y="163.4" font-size="13.3" fill="#000" stroke="#000" textLength="49.8" lengthAdjust="spacingAndGlyphs">RH:69.2</text>
<text x="699.5" y="179.1" font-size="13.3" fill="#000" stroke="#000" textLength="64.3" lengthAdjust="spacingAndGlyphs">MAXT:30.7</text>
<text x="700.8" y="194.8" font-size="13.3" fill="#000" stroke="#000" textLength="51.7" lengthAdjust="spacingAndGlyphs">TH:5463</text>
<text x="700.5" y="210.4" font-size="13.3" fill="#000" stroke="#000" textLength="48.3" lengthAdjust="spacingAndGlyphs">L57:6.4</text>
<text x="700.5" y="226.1" font-size="13.3" fill="#000" stroke="#000" textLength="49.5" lengthAdjust="spacingAndGlyphs">LCL:931</text>
<text y="241.8" font-size="13.3" fill="#000" stroke="#000"><tspan x="701.9" textLength="12.0" lengthAdjust="spacingAndGlyphs">LI:</tspan><tspan x="715.5" textLength="10.0" lengthAdjust="spacingAndGlyphs">-</tspan><tspan x="726.7" textLength="20.3" lengthAdjust="spacingAndGlyphs">5.8</tspan></text>
<text x="702.0" y="257.5" font-size="13.3" fill="#000" stroke="#000" textLength="35.5" lengthAdjust="spacingAndGlyphs">SI:2.5</text>
<text x="700.5" y="273.2" font-size="13.3" fill="#000" stroke="#000" textLength="46.5" lengthAdjust="spacingAndGlyphs">TT:41.7</text>
<text x="702.0" y="288.8" font-size="13.3" fill="#000" stroke="#000" textLength="38.0" lengthAdjust="spacingAndGlyphs">KI:301</text>
<text x="700.5" y="304.5" font-size="13.3" fill="#000" stroke="#000" textLength="49.0" lengthAdjust="spacingAndGlyphs">SW:N/A</text>
<text x="703.0" y="320.2" font-size="13.3" fill="#000" stroke="#000" textLength="34.5" lengthAdjust="spacingAndGlyphs">EI:0.2</text>
<text y="335.9" font-size="13.3" fill="#000" stroke="#000"><tspan x="698.6" textLength="9.9" lengthAdjust="spacingAndGlyphs">-</tspan><tspan x="710.2" textLength="47.8" lengthAdjust="spacingAndGlyphs">PARCEL</tspan><tspan x="758.9" textLength="9.7" lengthAdjust="spacingAndGlyphs">-</tspan></text>
<text x="699.0" y="351.6" font-size="13.3" fill="#000" stroke="#000" textLength="69.1" lengthAdjust="spacingAndGlyphs">CAPE:2399</text>
<text x="702.2" y="367.2" font-size="13.3" fill="#000" stroke="#000" textLength="40.8" lengthAdjust="spacingAndGlyphs">CINH:3</text>
<text x="700.6" y="382.9" font-size="13.3" fill="#000" stroke="#000" textLength="49.8" lengthAdjust="spacingAndGlyphs">LCL:931</text>
<text x="700.6" y="398.6" font-size="13.3" fill="#000" stroke="#000" textLength="49.8" lengthAdjust="spacingAndGlyphs">CAP:0.0</text>
<text x="700.6" y="414.3" font-size="13.3" fill="#000" stroke="#000" textLength="51.4" lengthAdjust="spacingAndGlyphs">LFC:928</text>
<text x="701.9" y="430.0" font-size="13.3" fill="#000" stroke="#000" textLength="42.8" lengthAdjust="spacingAndGlyphs">EL:146</text>
<text x="700.6" y="445.6" font-size="13.3" fill="#000" stroke="#000" textLength="52.1" lengthAdjust="spacingAndGlyphs">MPL:101</text>
<text y="461.3" font-size="13.3" fill="#000" stroke="#000"><tspan x="700.5" textLength="9.7" lengthAdjust="spacingAndGlyphs">-</tspan><tspan x="711.6" textLength="30.8" lengthAdjust="spacingAndGlyphs">WIND</tspan><tspan x="743.7" textLength="8.7" lengthAdjust="spacingAndGlyphs">-</tspan></text>
<text x="703.5" y="477.0" font-size="13.3" fill="#000" stroke="#000" textLength="24.4" lengthAdjust="spacingAndGlyphs">NOT</text>
<text x="701.9" y="492.7" font-size="13.3" fill="#000" stroke="#000" textLength="31.5" lengthAdjust="spacingAndGlyphs">AVAIL</text>
<text transform="translate(141.8 524.6) rotate(-45)" x="-8.0" y="3.8" font-size="10.5" fill="#520090" stroke="#520090" textLength="16.0" lengthAdjust="spacingAndGlyphs">0.1</text>
<text transform="translate(188.5 524.0) rotate(-45)" x="-8.0" y="3.8" font-size="10.5" fill="#520090" stroke="#520090" textLength="16.0" lengthAdjust="spacingAndGlyphs">0.2</text>
<text transform="translate(254.6 524.0) rotate(-45)" x="-8.0" y="3.8" font-size="10.5" fill="#520090" stroke="#520090" textLength="16.0" lengthAdjust="spacingAndGlyphs">0.5</text>
<text transform="translate(306.8 523.0) rotate(-45)" x="-3.2" y="3.8" font-size="10.5" fill="#520090" stroke="#520090" textLength="6.5" lengthAdjust="spacingAndGlyphs">1</text>
<text transform="translate(341.0 523.0) rotate(-45)" x="-8.0" y="3.8" font-size="10.5" fill="#520090" stroke="#520090" textLength="16.0" lengthAdjust="spacingAndGlyphs">1.5</text>
<text transform="translate(364.9 523.0) rotate(-45)" x="-3.2" y="3.8" font-size="10.5" fill="#520090" stroke="#520090" textLength="6.5" lengthAdjust="spacingAndGlyphs">2</text>
<text transform="translate(401.0 523.0) rotate(-45)" x="-3.2" y="3.8" font-size="10.5" fill="#520090" stroke="#520090" textLength="6.5" lengthAdjust="spacingAndGlyphs">3</text>
<text transform="translate(427.9 523.0) rotate(-45)" x="-3.2" y="3.8" font-size="10.5" fill="#520090" stroke="#520090" textLength="6.5" lengthAdjust="spacingAndGlyphs">4</text>
<text transform="translate(465.4 523.0) rotate(-45)" x="-3.2" y="3.8" font-size="10.5" fill="#520090" stroke="#520090" textLength="6.5" lengthAdjust="spacingAndGlyphs">6</text>
<text transform="translate(494.0 523.0) rotate(-45)" x="-3.2" y="3.8" font-size="10.5" fill="#520090" stroke="#520090" textLength="6.5" lengthAdjust="spacingAndGlyphs">8</text>
<text transform="translate(516.8 522.5) rotate(-45)" x="-6.5" y="3.8" font-size="10.5" fill="#520090" stroke="#520090" textLength="13.0" lengthAdjust="spacingAndGlyphs">10</text>
<text transform="translate(536.0 523.0) rotate(-45)" x="-6.5" y="3.8" font-size="10.5" fill="#520090" stroke="#520090" textLength="13.0" lengthAdjust="spacingAndGlyphs">12</text>
<text transform="translate(558.4 523.0) rotate(-45)" x="-6.5" y="3.8" font-size="10.5" fill="#520090" stroke="#520090" textLength="13.0" lengthAdjust="spacingAndGlyphs">15</text>
<text transform="translate(590.4 523.5) rotate(-45)" x="-6.5" y="3.8" font-size="10.5" fill="#520090" stroke="#520090" textLength="13.0" lengthAdjust="spacingAndGlyphs">20</text>
<text transform="translate(614.3 523.5) rotate(-45)" x="-6.5" y="3.8" font-size="10.5" fill="#520090" stroke="#520090" textLength="13.0" lengthAdjust="spacingAndGlyphs">25</text>
<text transform="translate(636.3 522.5) rotate(-45)" x="-6.5" y="3.8" font-size="10.5" fill="#520090" stroke="#520090" textLength="13.0" lengthAdjust="spacingAndGlyphs">30</text>
<text transform="translate(668.0 523.5) rotate(-45)" x="-6.5" y="3.8" font-size="10.5" fill="#520090" stroke="#520090" textLength="13.0" lengthAdjust="spacingAndGlyphs">40</text>
</g>
</svg>
</body></html>
